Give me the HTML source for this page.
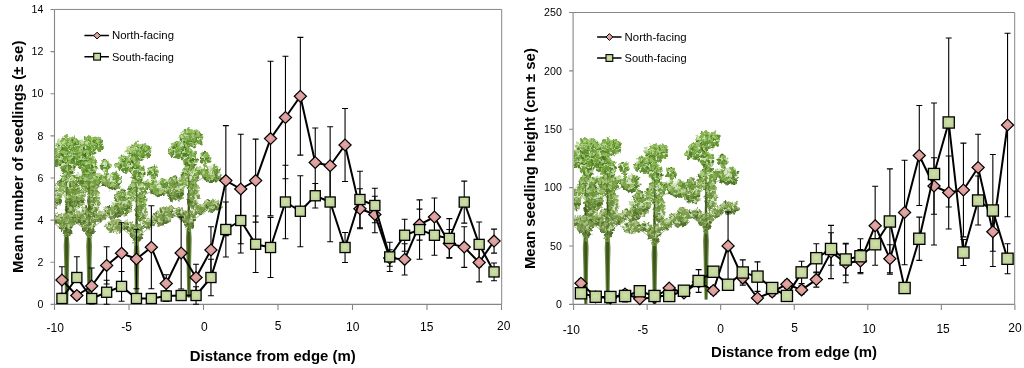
<!DOCTYPE html>
<html><head><meta charset="utf-8"><title>Seedlings vs distance from edge</title>
<style>
html,body{margin:0;padding:0;background:#fff;}
svg{display:block;font-family:"Liberation Sans",sans-serif;}
text{opacity:0.999;fill:#000;}
</style></head><body>
<svg width="1024" height="368" viewBox="0 0 1024 368">
<defs>
<radialGradient id="gp" cx="50%" cy="45%" r="70%"><stop offset="0" stop-color="#e3a9a7"/><stop offset="1" stop-color="#d28a88"/></radialGradient>
<radialGradient id="gg" cx="50%" cy="45%" r="75%"><stop offset="0" stop-color="#cfe0ac"/><stop offset="1" stop-color="#b7cc8c"/></radialGradient>
<path id="dm" d="M0 -5.9L6.1 0L0 5.9L-6.1 0Z" fill="url(#gp)" stroke="#000" stroke-width="1.2" stroke-linejoin="miter"/>
<rect id="sm1" x="-5.05" y="-5.05" width="10.1" height="10.1" fill="url(#gg)" stroke="#000" stroke-width="1.3"/>
<rect id="sm2" x="-5.6" y="-5.6" width="11.2" height="11.2" fill="url(#gg)" stroke="#000" stroke-width="1.3"/>
<path id="dl" d="M0 -3.4L3.4 0L0 3.4L-3.4 0Z" fill="url(#gp)" stroke="#000" stroke-width="1"/>
<rect id="sl" x="-3.4" y="-3.4" width="6.8" height="6.8" fill="url(#gg)" stroke="#000" stroke-width="1.1"/>
<g id="trunk"><path d="M-1.5 168.7L-1.9 150L-2.3 130L-2.9 110L-1.6 92L-0.7 60L0 26L0.7 60L1.6 92L2.9 110L2.4 130L2.1 150L1.7 168.7Z" fill="#6c8a40"/><path d="M-0.6 168.7L-0.9 150L-1.2 130L-1.5 110L-0.6 70L0 34L0.6 70L1.5 110L1.2 130L1 150L0.7 168.7Z" fill="#3b541b"/><path d="M0 97L-20 82M0 95L22 78M0 56L21 46" stroke="#5a7a2c" stroke-width="0.8" fill="none" opacity="0.7"/></g><g id="tree"><ellipse cx="1.4" cy="9.5" rx="10" ry="7.6" fill="#7aa640" opacity="0.3"/><ellipse cx="8.5" cy="5.5" rx="3.8" ry="3.4" fill="#7aa640" opacity="0.3"/><ellipse cx="-10.5" cy="21.5" rx="9.3" ry="7.2" fill="#7aa640" opacity="0.3"/><ellipse cx="16" cy="30" rx="4.5" ry="5.1" fill="#7aa640" opacity="0.3"/><ellipse cx="1.5" cy="30" rx="6" ry="8.5" fill="#7aa640" opacity="0.3"/><ellipse cx="23.5" cy="45.5" rx="8.1" ry="8.1" fill="#7aa640" opacity="0.3"/><ellipse cx="12" cy="42" rx="4.2" ry="3.8" fill="#7aa640" opacity="0.3"/><ellipse cx="1" cy="48" rx="6.8" ry="10.2" fill="#7aa640" opacity="0.3"/><ellipse cx="-14" cy="60" rx="8.5" ry="11" fill="#7aa640" opacity="0.3"/><ellipse cx="5" cy="66" rx="4.7" ry="11" fill="#7aa640" opacity="0.3"/><ellipse cx="23" cy="77" rx="8.9" ry="5.1" fill="#7aa640" opacity="0.3"/><ellipse cx="11" cy="81.5" rx="5.1" ry="4.2" fill="#7aa640" opacity="0.3"/><ellipse cx="-22" cy="84" rx="8.9" ry="5.1" fill="#7aa640" opacity="0.3"/><ellipse cx="-9" cy="83" rx="4.7" ry="4.2" fill="#7aa640" opacity="0.3"/><ellipse cx="0" cy="88.5" rx="6.4" ry="6" fill="#7aa640" opacity="0.3"/><ellipse cx="0.3" cy="97" rx="3.2" ry="4.2" fill="#7aa640" opacity="0.3"/><circle cx="-12.6" cy="58" r="1.1" fill="#85ab4d"/><circle cx="-18" cy="86" r="1.4" fill="#c0d4a0"/><circle cx="0" cy="53" r="1.3" fill="#608a2e"/><circle cx="19.5" cy="49.1" r="1.5" fill="#91b85c"/><circle cx="0.4" cy="59.3" r="1.5" fill="#79a141"/><circle cx="23.5" cy="82.7" r="0.9" fill="#56762b"/><circle cx="3.1" cy="52.4" r="1.6" fill="#5f8a2e"/><circle cx="-18.7" cy="60.9" r="0.8" fill="#a7c67b"/><circle cx="12.5" cy="25.7" r="0.8" fill="#3e6a18"/><circle cx="-4.9" cy="12.8" r="1.1" fill="#5a8c26"/><circle cx="17.3" cy="43.2" r="1" fill="#6a9732"/><circle cx="-11.7" cy="66.9" r="1.1" fill="#527727"/><circle cx="-14.9" cy="88.1" r="0.7" fill="#4a6824"/><circle cx="-1.4" cy="23.5" r="1.4" fill="#72a436"/><circle cx="28.3" cy="81.8" r="1.1" fill="#55762b"/><circle cx="-10.5" cy="83.5" r="0.8" fill="#acc483"/><circle cx="1.6" cy="96.8" r="1.4" fill="#7e9e4a"/><circle cx="-19.7" cy="85.5" r="0.8" fill="#729440"/><circle cx="16.5" cy="72.6" r="1" fill="#70953c"/><circle cx="-0.8" cy="15.8" r="1.2" fill="#8cba54"/><circle cx="9.6" cy="40.4" r="1.7" fill="#5d8b2b"/><circle cx="0.8" cy="73.8" r="1.4" fill="#486822"/><circle cx="-15.3" cy="53.1" r="1.1" fill="#608a2e"/><circle cx="-9.9" cy="81.3" r="1.2" fill="#658837"/><circle cx="-19.9" cy="89.4" r="1.2" fill="#7e9e4a"/><circle cx="1.1" cy="57.4" r="0.9" fill="#608a30"/><circle cx="6.4" cy="6.6" r="1" fill="#b8d890"/><circle cx="17.1" cy="43.9" r="1.1" fill="#bbd795"/><circle cx="-17.2" cy="15.2" r="0.8" fill="#3e6a18"/><circle cx="25.5" cy="40.4" r="1.5" fill="#a3c774"/><circle cx="1.1" cy="53.2" r="1" fill="#44691e"/><circle cx="-11.2" cy="63.6" r="1" fill="#628932"/><circle cx="-0.1" cy="101.7" r="1.2" fill="#7e9e4a"/><circle cx="9" cy="79.9" r="1.5" fill="#71943e"/><circle cx="-4.5" cy="15" r="0.7" fill="#4a7a1c"/><circle cx="-5.7" cy="28.1" r="0.8" fill="#3f6a19"/><circle cx="-11.4" cy="83.4" r="1.3" fill="#72943f"/><circle cx="-12.2" cy="51.3" r="1.6" fill="#77a13f"/><circle cx="7" cy="50.5" r="0.8" fill="#a5c677"/><circle cx="27.2" cy="45.9" r="1.5" fill="#42691c"/><circle cx="10.9" cy="8.6" r="1.1" fill="#a0c86e"/><circle cx="-10.5" cy="72" r="1.4" fill="#537729"/><circle cx="0.3" cy="41.2" r="1.2" fill="#a3c774"/><circle cx="10.4" cy="4.8" r="0.7" fill="#b8d890"/><circle cx="6.2" cy="63.2" r="1.3" fill="#86aa4f"/><circle cx="-14.1" cy="55.6" r="0.9" fill="#84ab4c"/><circle cx="2.9" cy="59.1" r="1.4" fill="#618a30"/><circle cx="7.2" cy="54" r="1.4" fill="#608a2f"/><circle cx="14.6" cy="75.2" r="1.3" fill="#aac580"/><circle cx="-20.1" cy="80.1" r="1.2" fill="#71943e"/><circle cx="-4.9" cy="9.7" r="1.3" fill="#66982c"/><circle cx="23" cy="75.3" r="0.7" fill="#547729"/><circle cx="-2" cy="26.1" r="1.4" fill="#7eae42"/><circle cx="-5" cy="13.4" r="1.1" fill="#4a7a1c"/><circle cx="10.5" cy="7.3" r="1.4" fill="#8cba54"/><circle cx="3.9" cy="78.6" r="1.3" fill="#55762a"/><circle cx="22.6" cy="76" r="1.4" fill="#88a953"/><circle cx="23.5" cy="47.3" r="0.9" fill="#6a9733"/><circle cx="0" cy="94.6" r="0.8" fill="#acc484"/><circle cx="1.6" cy="75.2" r="1.2" fill="#648935"/><circle cx="19.6" cy="76.9" r="1.5" fill="#88a953"/><circle cx="0.3" cy="6.9" r="0.8" fill="#b8d890"/><circle cx="-0.8" cy="26.2" r="1.1" fill="#4a7a1c"/><circle cx="-14.1" cy="56.2" r="0.9" fill="#78a140"/><circle cx="-17" cy="64.4" r="0.9" fill="#7aa043"/><circle cx="-2.2" cy="10.6" r="1.3" fill="#5a8c26"/><circle cx="2.4" cy="23.3" r="1.5" fill="#a0c86e"/><circle cx="10.3" cy="42.8" r="1" fill="#a4c775"/><circle cx="11.7" cy="5.6" r="1.2" fill="#72a436"/><circle cx="28.8" cy="42.9" r="0.7" fill="#5e8b2b"/><circle cx="-19.4" cy="68" r="1.2" fill="#537727"/><circle cx="5.1" cy="5.5" r="1.1" fill="#5a8c26"/><circle cx="-13" cy="70.1" r="1.5" fill="#95b563"/><circle cx="8.7" cy="42.2" r="1.3" fill="#41691b"/><circle cx="24.2" cy="49.5" r="0.8" fill="#77a23e"/><circle cx="2.5" cy="16.7" r="1.2" fill="#5a8c26"/><circle cx="11.4" cy="82.9" r="1" fill="#98b467"/><circle cx="-9.6" cy="56.7" r="1" fill="#92b75f"/><circle cx="-15.7" cy="23.9" r="0.8" fill="#72a436"/><circle cx="-7.3" cy="67" r="0.8" fill="#628933"/><circle cx="-4.8" cy="47.3" r="1.1" fill="#90b85b"/><circle cx="2.8" cy="90.9" r="1.3" fill="#4a6824"/><circle cx="17.2" cy="50.4" r="1.6" fill="#43691d"/><circle cx="-23.9" cy="78.5" r="1.4" fill="#97b566"/><circle cx="-5" cy="17.6" r="0.9" fill="#8cba54"/><circle cx="-12.5" cy="53.3" r="1.4" fill="#44691e"/><circle cx="4.8" cy="37.5" r="1.6" fill="#5c8b2a"/><circle cx="6.2" cy="34.5" r="1" fill="#a2c771"/><circle cx="3.6" cy="18.1" r="1.1" fill="#5a8c26"/><circle cx="-24.3" cy="86.6" r="0.9" fill="#668838"/><circle cx="11.3" cy="38.3" r="0.7" fill="#81ad46"/><circle cx="2.8" cy="24.3" r="1.4" fill="#72a436"/><circle cx="-7.1" cy="55.7" r="0.8" fill="#bcd698"/><circle cx="5.6" cy="2.5" r="0.9" fill="#a0c86e"/><circle cx="-18.6" cy="79.2" r="1.1" fill="#71943e"/><circle cx="-19.4" cy="24.3" r="0.8" fill="#72a436"/><circle cx="20.9" cy="52.7" r="0.8" fill="#44691e"/><circle cx="-3.5" cy="8.3" r="1.2" fill="#8cba54"/><circle cx="-21" cy="82.3" r="1.3" fill="#71943f"/><circle cx="-2" cy="96.4" r="1.1" fill="#7e9e4a"/><circle cx="6.4" cy="24.5" r="1.5" fill="#66982c"/><circle cx="-12.3" cy="20.3" r="0.8" fill="#3e6a18"/><circle cx="-2" cy="22.7" r="1" fill="#72a436"/><circle cx="-14.8" cy="58.8" r="1" fill="#517825"/><circle cx="-11.7" cy="86.1" r="1.6" fill="#8aa856"/><circle cx="-9.1" cy="16.2" r="1" fill="#7eae42"/><circle cx="13" cy="26.3" r="1.4" fill="#a0c86e"/><circle cx="6" cy="76.4" r="1.6" fill="#648935"/><circle cx="24.3" cy="52.7" r="1.6" fill="#608a2e"/><circle cx="7.7" cy="40.3" r="1.6" fill="#a3c774"/><circle cx="15.8" cy="41.9" r="1.1" fill="#5d8b2b"/><circle cx="-2.3" cy="30.1" r="1.2" fill="#7fad44"/><circle cx="3.4" cy="90.4" r="1.6" fill="#c0d4a0"/><circle cx="9.6" cy="71.7" r="0.7" fill="#6f953c"/><circle cx="-1.3" cy="58.7" r="0.8" fill="#618a30"/><circle cx="-10.1" cy="82.7" r="1.5" fill="#98b467"/><circle cx="-13.8" cy="83.2" r="0.7" fill="#72943f"/><circle cx="-0.4" cy="65.7" r="1.3" fill="#466920"/><circle cx="1.1" cy="8.3" r="1.3" fill="#8cba54"/><circle cx="14.2" cy="44.6" r="1.2" fill="#4e7921"/><circle cx="-5.1" cy="90.9" r="1.5" fill="#7e9e4a"/><circle cx="30.1" cy="74.9" r="0.9" fill="#bfd59d"/><circle cx="1.5" cy="58.7" r="0.8" fill="#45691f"/><circle cx="-1.6" cy="31.2" r="1.2" fill="#4b7a1e"/><circle cx="0.7" cy="60.2" r="1.2" fill="#bdd699"/><circle cx="7.5" cy="9.3" r="0.9" fill="#3e6a18"/><circle cx="23.9" cy="46.7" r="1.3" fill="#42691c"/><circle cx="4.9" cy="14" r="1.6" fill="#5a8c26"/><circle cx="-11" cy="15.5" r="0.9" fill="#8cba54"/><circle cx="1" cy="86" r="0.9" fill="#56762c"/><circle cx="14.7" cy="80.4" r="1.7" fill="#658837"/><circle cx="3.5" cy="8.1" r="0.9" fill="#4a7a1c"/><circle cx="12.4" cy="40.9" r="0.7" fill="#41691b"/><circle cx="-8.2" cy="86.6" r="1.1" fill="#56762c"/><circle cx="24.8" cy="43.7" r="1.2" fill="#5e8b2c"/><circle cx="-13.5" cy="53.4" r="1.5" fill="#84ab4b"/><circle cx="21.3" cy="82.3" r="1.2" fill="#c0d49f"/><circle cx="7.1" cy="45.8" r="1.5" fill="#4e7922"/><circle cx="-13" cy="48.7" r="1.6" fill="#43691d"/><circle cx="-16.2" cy="58.8" r="1.4" fill="#bdd699"/><circle cx="-2.3" cy="42.2" r="1.7" fill="#8fb85a"/><circle cx="28.7" cy="40.2" r="1.1" fill="#8fb859"/><circle cx="-6.2" cy="86.2" r="1" fill="#4a6824"/><circle cx="0.1" cy="58.9" r="0.8" fill="#517825"/><circle cx="-1.2" cy="48.2" r="1" fill="#6b9634"/><circle cx="-2.1" cy="3.8" r="0.7" fill="#5a8c26"/><circle cx="-14.7" cy="47.7" r="1.6" fill="#6b9634"/><circle cx="-19" cy="68.8" r="1.1" fill="#476921"/><circle cx="-10.1" cy="61.9" r="1.4" fill="#79a042"/><circle cx="-13.3" cy="56.2" r="1.4" fill="#78a140"/><circle cx="-4.3" cy="13.7" r="0.8" fill="#4a7a1c"/><circle cx="-18.8" cy="67" r="0.9" fill="#7aa044"/><circle cx="-10.4" cy="65.4" r="0.8" fill="#527727"/><circle cx="-0.5" cy="65.5" r="0.9" fill="#6e9539"/><circle cx="-4.2" cy="41.3" r="1.4" fill="#8fb859"/><circle cx="1.5" cy="92.5" r="1.6" fill="#4a6824"/><circle cx="-5.2" cy="32.7" r="0.9" fill="#a2c771"/><circle cx="-1.9" cy="96.1" r="1.6" fill="#7e9e4a"/><circle cx="1" cy="12.6" r="0.7" fill="#a0c86e"/><circle cx="-12.7" cy="62.6" r="1.4" fill="#527726"/><circle cx="6.3" cy="37.1" r="0.8" fill="#5c8b2a"/><circle cx="-9.7" cy="80.5" r="1.5" fill="#97b466"/><circle cx="-7.1" cy="86.5" r="1.6" fill="#729440"/><circle cx="6.3" cy="34" r="1.4" fill="#8eb957"/><circle cx="21.2" cy="75.6" r="1.3" fill="#486822"/><circle cx="-16" cy="51.8" r="1.7" fill="#6b9635"/><circle cx="12.3" cy="80.7" r="1.5" fill="#71943f"/><circle cx="6.6" cy="82.1" r="1.1" fill="#7d9e49"/><circle cx="5.2" cy="84.6" r="1.3" fill="#8aa856"/><circle cx="-4" cy="94.1" r="0.9" fill="#729440"/><circle cx="-1.2" cy="40.3" r="1.2" fill="#81ac47"/><circle cx="27.5" cy="43.5" r="1.6" fill="#76a23c"/><circle cx="0.2" cy="25.3" r="0.9" fill="#72a436"/><circle cx="20" cy="43.3" r="0.9" fill="#6a9732"/><circle cx="-8.9" cy="21.9" r="1.3" fill="#7eae42"/><circle cx="17.3" cy="48.3" r="0.7" fill="#6b9634"/><circle cx="-28" cy="83.5" r="0.8" fill="#729440"/><circle cx="12.1" cy="8.6" r="0.7" fill="#5a8c26"/><circle cx="-1.9" cy="56.2" r="0.7" fill="#44691e"/><circle cx="0.9" cy="12.7" r="1.1" fill="#5a8c26"/><circle cx="-8.4" cy="13.8" r="1.3" fill="#4a7a1c"/><circle cx="-1.4" cy="52.5" r="0.8" fill="#78a13f"/><circle cx="10.5" cy="40" r="1" fill="#a3c773"/><circle cx="5.6" cy="7" r="1.1" fill="#7eae42"/><circle cx="-0.9" cy="23.2" r="0.8" fill="#72a436"/><circle cx="-7.7" cy="21.9" r="1.3" fill="#b8d890"/><circle cx="-18.7" cy="78.5" r="1" fill="#658836"/><circle cx="-5.4" cy="18.6" r="1" fill="#3e6a18"/><circle cx="-0.2" cy="15" r="1.4" fill="#4a7a1c"/><circle cx="16.5" cy="35.6" r="1.5" fill="#80ad46"/><circle cx="3.2" cy="54.5" r="1.5" fill="#44691e"/><circle cx="-10.7" cy="28.3" r="1.7" fill="#3f6a19"/><circle cx="6.7" cy="23.9" r="0.8" fill="#8cba54"/><circle cx="5.1" cy="9" r="0.9" fill="#8cba54"/><circle cx="4.3" cy="91.4" r="1.7" fill="#56762c"/><circle cx="-27.2" cy="80.3" r="1.4" fill="#abc482"/><circle cx="0.8" cy="25.2" r="1.4" fill="#66982c"/><circle cx="-22" cy="61.6" r="1.5" fill="#79a042"/><circle cx="4.1" cy="86.9" r="1.6" fill="#729440"/><circle cx="-7.3" cy="20.2" r="1.2" fill="#66982c"/><circle cx="-6.9" cy="87.4" r="1.3" fill="#668838"/><circle cx="18.8" cy="29.4" r="1.6" fill="#67982d"/><circle cx="29.7" cy="41.8" r="1" fill="#bad794"/><circle cx="9.2" cy="3.8" r="0.7" fill="#7eae42"/><circle cx="5.8" cy="85.3" r="1.4" fill="#8aa856"/><circle cx="-4.4" cy="32.3" r="0.8" fill="#67982e"/><circle cx="29" cy="42" r="1.6" fill="#75a23c"/><circle cx="-26.4" cy="84.7" r="0.9" fill="#7e9e4a"/><circle cx="-13.5" cy="28.2" r="0.9" fill="#3f6a19"/><circle cx="5.5" cy="6.8" r="0.9" fill="#66982c"/><circle cx="-12.7" cy="64.8" r="1" fill="#6e9539"/><circle cx="-8.3" cy="20.4" r="1.3" fill="#7eae42"/><circle cx="1.7" cy="20.9" r="1.3" fill="#8cba54"/><circle cx="11.2" cy="14" r="1.4" fill="#4a7a1c"/><circle cx="4.6" cy="66.8" r="1.6" fill="#628933"/><circle cx="-11" cy="53.8" r="0.9" fill="#78a140"/><circle cx="-4.5" cy="59.1" r="1.4" fill="#a7c67a"/><circle cx="25.8" cy="80.3" r="1.4" fill="#658837"/><circle cx="-10.6" cy="81.6" r="1.4" fill="#c0d49f"/><circle cx="17.7" cy="74.3" r="1.4" fill="#aac580"/><circle cx="3.6" cy="63.1" r="0.9" fill="#6e9539"/><circle cx="-15.9" cy="64.5" r="1" fill="#628932"/><circle cx="5.6" cy="2.7" r="1.6" fill="#8cba54"/><circle cx="-3.3" cy="27.5" r="1" fill="#b8d891"/><circle cx="22.2" cy="51" r="1.1" fill="#a5c678"/><circle cx="4.8" cy="85.8" r="0.8" fill="#729440"/><circle cx="10.2" cy="4.7" r="1.2" fill="#7eae42"/><circle cx="8.3" cy="73.4" r="0.7" fill="#486822"/><circle cx="-14.2" cy="65.8" r="0.8" fill="#a8c57d"/><circle cx="-15.3" cy="21.6" r="0.9" fill="#7eae42"/><circle cx="2.3" cy="27.1" r="1.2" fill="#66982d"/><circle cx="0.6" cy="22.3" r="1" fill="#8cba54"/><circle cx="-2" cy="22.1" r="1.6" fill="#72a436"/><circle cx="-9.6" cy="19.5" r="0.9" fill="#5a8c26"/><circle cx="26.4" cy="43.8" r="1.6" fill="#4e7921"/><circle cx="0.9" cy="41.1" r="1.4" fill="#a3c774"/><circle cx="-5.2" cy="81.5" r="0.8" fill="#658837"/><circle cx="4.1" cy="26.8" r="0.9" fill="#72a437"/><circle cx="7" cy="83.9" r="0.7" fill="#4a6824"/><circle cx="12.8" cy="79.2" r="1" fill="#71943e"/><circle cx="-4.4" cy="54.4" r="1.5" fill="#78a140"/><circle cx="-2.5" cy="45.7" r="1.2" fill="#a4c776"/><circle cx="25.1" cy="72.8" r="0.8" fill="#7c9f46"/><circle cx="-14.3" cy="85.6" r="0.8" fill="#56762c"/><circle cx="-9" cy="20.6" r="1.1" fill="#5a8c26"/><circle cx="-14.4" cy="14.1" r="1.3" fill="#66982c"/><circle cx="15" cy="48.2" r="1.1" fill="#6b9634"/><circle cx="28.8" cy="74.9" r="0.8" fill="#70953d"/><circle cx="5.3" cy="75.1" r="1.6" fill="#648935"/><circle cx="20" cy="29.1" r="1.7" fill="#a1c86f"/><circle cx="-27.5" cy="82.3" r="1.4" fill="#89a855"/><circle cx="7.5" cy="75.5" r="0.9" fill="#7c9f47"/><circle cx="-6.5" cy="86.8" r="1.2" fill="#729440"/><circle cx="6.4" cy="45.7" r="1.5" fill="#76a23d"/><circle cx="-3.1" cy="45.2" r="1.1" fill="#5e8b2c"/><circle cx="-12.7" cy="53.1" r="0.8" fill="#a6c678"/><circle cx="23.6" cy="52.6" r="1.7" fill="#44691e"/><circle cx="7.8" cy="7.9" r="1.1" fill="#3e6a18"/><circle cx="-5.1" cy="59.8" r="1.2" fill="#93b760"/><circle cx="2.6" cy="22.6" r="1" fill="#4a7a1c"/><circle cx="5" cy="33.7" r="1.7" fill="#74a339"/><circle cx="-5.3" cy="56.5" r="0.7" fill="#6c9636"/><circle cx="-11.2" cy="51.6" r="0.7" fill="#bcd697"/><circle cx="28.7" cy="78.5" r="1.2" fill="#7d9f48"/><circle cx="11.4" cy="3.3" r="0.9" fill="#8cba54"/><circle cx="-7.4" cy="28.5" r="0.9" fill="#5b8c27"/><circle cx="-23.4" cy="59.9" r="0.7" fill="#517825"/><circle cx="-1.8" cy="25.9" r="1.1" fill="#3e6a18"/><circle cx="15.7" cy="74.5" r="0.9" fill="#70953c"/><circle cx="23.2" cy="46.2" r="0.9" fill="#bbd796"/><circle cx="-12.3" cy="21.1" r="1.1" fill="#5a8c26"/><circle cx="-3.4" cy="14.3" r="1.3" fill="#5a8c26"/><circle cx="27.1" cy="47.9" r="1.6" fill="#43691d"/><circle cx="4.2" cy="77.8" r="1.5" fill="#658836"/><circle cx="-21.3" cy="86.7" r="1.2" fill="#668838"/><circle cx="-23.9" cy="59.9" r="1.4" fill="#bdd699"/><circle cx="-20" cy="54.5" r="0.8" fill="#6c9636"/><circle cx="9.7" cy="13.2" r="1.6" fill="#b8d890"/><circle cx="2.1" cy="59" r="1" fill="#93b75f"/><circle cx="30.2" cy="42.1" r="1" fill="#a3c774"/><circle cx="5.1" cy="51.2" r="0.9" fill="#6b9635"/><circle cx="21" cy="31.2" r="1.6" fill="#5b8c28"/><circle cx="-20.4" cy="62.5" r="1.3" fill="#7aa043"/><circle cx="26.1" cy="44.2" r="1" fill="#6a9732"/><circle cx="1.8" cy="71.5" r="1.3" fill="#6f953b"/><circle cx="4.6" cy="87.6" r="1.2" fill="#7e9e4a"/><circle cx="-8.8" cy="7.9" r="1.2" fill="#8cba54"/><circle cx="20.5" cy="78.3" r="1.3" fill="#71943e"/><circle cx="3.1" cy="65.5" r="1.7" fill="#6e953a"/><circle cx="19.1" cy="77.4" r="1.6" fill="#486822"/><circle cx="3.4" cy="57.5" r="0.8" fill="#618a30"/><circle cx="-3.7" cy="84.8" r="1.6" fill="#acc484"/><circle cx="-26.5" cy="84.6" r="0.8" fill="#acc484"/><circle cx="15.7" cy="35.8" r="1" fill="#689730"/><circle cx="15.6" cy="83.4" r="1.3" fill="#98b467"/><circle cx="-13.7" cy="28.9" r="0.7" fill="#5b8c27"/><circle cx="2.2" cy="36.9" r="1.6" fill="#689730"/><circle cx="2" cy="4.4" r="1.2" fill="#7eae42"/><circle cx="-16.5" cy="71.8" r="0.8" fill="#537728"/><circle cx="23.4" cy="48.8" r="1.2" fill="#6b9634"/><circle cx="-7.5" cy="50.2" r="1" fill="#4f7823"/><circle cx="13.3" cy="77.5" r="1" fill="#486822"/><circle cx="-3.5" cy="10" r="1.5" fill="#72a436"/><circle cx="7.5" cy="42.5" r="0.9" fill="#bad795"/><circle cx="-18" cy="58.1" r="1.6" fill="#79a141"/><circle cx="-31.4" cy="83.2" r="1.5" fill="#7e9e49"/><circle cx="-10.9" cy="61.7" r="1.7" fill="#6d9638"/><circle cx="24.2" cy="44" r="1" fill="#6a9732"/><circle cx="-6.3" cy="44.1" r="1.1" fill="#6a9732"/><circle cx="-2.6" cy="49.8" r="1.7" fill="#a5c677"/><circle cx="-3.7" cy="31.2" r="1.2" fill="#67982e"/><circle cx="4.9" cy="5.4" r="1.6" fill="#66982c"/><circle cx="-3.7" cy="2.5" r="1.6" fill="#66982c"/><circle cx="6.9" cy="12.7" r="1" fill="#b8d890"/><circle cx="4.7" cy="27.2" r="1" fill="#72a437"/><circle cx="23.4" cy="76.9" r="1.6" fill="#aac581"/><circle cx="7.8" cy="8.4" r="1.1" fill="#4a7a1c"/><circle cx="17.1" cy="25.3" r="1" fill="#72a436"/><circle cx="18.5" cy="49.5" r="0.9" fill="#6b9634"/><circle cx="-20.3" cy="65.3" r="1.1" fill="#527727"/><circle cx="-21.1" cy="66.2" r="0.9" fill="#466920"/><circle cx="-11.1" cy="17.3" r="1.6" fill="#8cba54"/><circle cx="-3" cy="83.4" r="1.6" fill="#72943f"/><circle cx="-0.1" cy="82" r="1.1" fill="#658837"/><circle cx="2.1" cy="82.6" r="1.2" fill="#56762b"/><circle cx="-4.4" cy="84.5" r="1.5" fill="#c0d4a0"/><circle cx="-3.3" cy="20.3" r="1.2" fill="#b8d890"/><circle cx="2.6" cy="3.1" r="1.3" fill="#5a8c26"/><circle cx="-2.8" cy="44.8" r="1.2" fill="#6a9733"/><circle cx="20.4" cy="76.5" r="0.9" fill="#bfd59e"/><circle cx="4.1" cy="10.3" r="0.9" fill="#5a8c26"/><circle cx="-6.7" cy="90.3" r="1.1" fill="#c0d4a0"/><circle cx="-6.9" cy="21" r="1.5" fill="#b8d890"/><circle cx="11.5" cy="79.7" r="1.5" fill="#658836"/><circle cx="32.5" cy="78.5" r="1.2" fill="#658836"/><circle cx="-7.9" cy="11.1" r="1.3" fill="#3e6a18"/><circle cx="6" cy="9.5" r="0.8" fill="#72a436"/><circle cx="-22.4" cy="80.4" r="1.6" fill="#496823"/><circle cx="-1.6" cy="98.3" r="1.2" fill="#98b468"/><circle cx="8.7" cy="80.6" r="1.4" fill="#7d9e49"/><circle cx="20" cy="82" r="0.8" fill="#496823"/><circle cx="-5.7" cy="53.1" r="1.3" fill="#6c9635"/><circle cx="-5.3" cy="52.4" r="0.9" fill="#bcd697"/><circle cx="-6.4" cy="61.6" r="1.2" fill="#93b660"/><circle cx="-1.3" cy="13.2" r="1.5" fill="#66982c"/><circle cx="13.8" cy="41.2" r="0.9" fill="#81ac47"/><circle cx="10.1" cy="45.9" r="1.5" fill="#42691c"/><circle cx="-12" cy="55.6" r="0.7" fill="#6c9636"/><circle cx="29.9" cy="75.2" r="1.5" fill="#648935"/><circle cx="10.1" cy="9.2" r="1" fill="#5a8c26"/><circle cx="-7.1" cy="68.7" r="1.7" fill="#a9c57e"/><circle cx="-0.7" cy="4.2" r="1.2" fill="#72a436"/><circle cx="2" cy="66.7" r="1.6" fill="#7aa044"/><circle cx="6.2" cy="17.4" r="1.3" fill="#a0c86e"/><circle cx="15.7" cy="41.5" r="1.1" fill="#8fb85a"/><circle cx="-20" cy="68.7" r="0.9" fill="#bed59c"/><circle cx="-0.9" cy="21.3" r="0.8" fill="#4a7a1c"/><circle cx="-13.2" cy="28.4" r="1.3" fill="#5b8c27"/><circle cx="-2.2" cy="39.1" r="0.9" fill="#81ad47"/><circle cx="-12.7" cy="67.2" r="1.4" fill="#628933"/><circle cx="-10.6" cy="25.7" r="1.2" fill="#5a8c26"/><circle cx="9.9" cy="45.7" r="1.5" fill="#42691c"/><circle cx="6.7" cy="11.9" r="1.6" fill="#66982c"/><circle cx="7.6" cy="49.6" r="1.2" fill="#83ac4a"/><circle cx="-18.2" cy="52.1" r="1.2" fill="#bcd697"/><circle cx="-16.3" cy="57.8" r="1.5" fill="#45691f"/><circle cx="-11.9" cy="87.1" r="1.2" fill="#8aa856"/><circle cx="5.4" cy="12.8" r="1.1" fill="#8cba54"/><circle cx="17.9" cy="72.2" r="1.6" fill="#a9c57f"/><circle cx="5.1" cy="17.4" r="0.7" fill="#4a7a1c"/><circle cx="5.6" cy="4.7" r="1" fill="#8cba54"/><circle cx="-3.6" cy="45" r="0.8" fill="#6a9733"/><circle cx="15.7" cy="34.8" r="0.8" fill="#b9d793"/><circle cx="11.8" cy="84.3" r="1.6" fill="#668838"/><circle cx="-0.5" cy="55.7" r="1.3" fill="#78a140"/><circle cx="25.1" cy="36.8" r="1.3" fill="#8eb958"/><circle cx="2.6" cy="26.5" r="1.4" fill="#7eae42"/><circle cx="-16.3" cy="19.1" r="1.5" fill="#8cba54"/><circle cx="-12.4" cy="19.6" r="0.9" fill="#7eae42"/><circle cx="1" cy="46.1" r="1.1" fill="#6a9733"/><circle cx="4" cy="75.3" r="1.1" fill="#88a953"/><circle cx="-16.4" cy="58.2" r="0.9" fill="#45691f"/><circle cx="3.1" cy="42.9" r="0.8" fill="#5e8b2b"/><circle cx="-0.2" cy="9.1" r="1.5" fill="#b8d890"/><circle cx="8.6" cy="79" r="1.7" fill="#7d9f48"/><circle cx="-25.9" cy="86.9" r="0.8" fill="#668838"/><circle cx="-0" cy="95.2" r="0.9" fill="#56762c"/><circle cx="14.6" cy="47.3" r="1.5" fill="#6a9733"/><circle cx="24.7" cy="76.6" r="1.3" fill="#70953d"/><circle cx="12.7" cy="28.7" r="1.5" fill="#a1c86f"/><circle cx="20" cy="74.9" r="0.9" fill="#7c9f47"/><circle cx="-24.5" cy="82" r="0.8" fill="#97b467"/><circle cx="-11.8" cy="22.1" r="1.5" fill="#72a436"/><circle cx="4.7" cy="73" r="1" fill="#bed59d"/><circle cx="2.9" cy="95.2" r="0.9" fill="#668838"/><circle cx="-16.9" cy="80.8" r="1.5" fill="#abc482"/><circle cx="6.1" cy="62.4" r="1.1" fill="#517826"/><circle cx="-16.7" cy="53.2" r="0.9" fill="#84ab4b"/><circle cx="30" cy="73.1" r="1.2" fill="#7c9f46"/><circle cx="-26.9" cy="86.9" r="1.6" fill="#7e9e4a"/><circle cx="26.6" cy="45.7" r="0.9" fill="#76a23d"/><circle cx="-0.4" cy="29.1" r="1.2" fill="#67982d"/><circle cx="21.3" cy="47.7" r="1.3" fill="#5f8a2d"/><circle cx="7" cy="11.9" r="1.2" fill="#72a436"/><circle cx="3.9" cy="58.9" r="1.5" fill="#618a30"/><circle cx="0.4" cy="85.8" r="1.5" fill="#56762c"/><circle cx="-22.9" cy="60.8" r="1.3" fill="#bdd69a"/><circle cx="1.6" cy="65.3" r="1.6" fill="#7aa043"/><circle cx="-16" cy="64" r="0.9" fill="#a8c57c"/><circle cx="-21.3" cy="53.5" r="1.4" fill="#507824"/><circle cx="2.5" cy="7" r="1.6" fill="#5a8c26"/><circle cx="7.3" cy="31.8" r="1.3" fill="#73a338"/><circle cx="17.6" cy="35.6" r="1.2" fill="#5c8b29"/><circle cx="11.1" cy="83.2" r="1.7" fill="#72943f"/><circle cx="-6.6" cy="21.5" r="1.3" fill="#4a7a1c"/><circle cx="26.1" cy="48.6" r="1.5" fill="#bbd696"/><circle cx="22.4" cy="46.6" r="0.7" fill="#76a23d"/><circle cx="8.3" cy="12.4" r="1.2" fill="#66982c"/><circle cx="-10.2" cy="57" r="1" fill="#78a141"/><circle cx="-13.6" cy="57.7" r="1.5" fill="#6d9637"/><circle cx="3.8" cy="70" r="1.2" fill="#537728"/><circle cx="-1.6" cy="4.4" r="0.9" fill="#8cba54"/><circle cx="-27.3" cy="82.4" r="1" fill="#7d9e49"/><circle cx="-17.8" cy="79" r="1.3" fill="#55762a"/><circle cx="-11.5" cy="84.7" r="1.3" fill="#729440"/><circle cx="20.7" cy="79.3" r="0.8" fill="#55762a"/><circle cx="1.1" cy="39.8" r="1.7" fill="#699731"/><circle cx="0.1" cy="71.4" r="1.6" fill="#476821"/><circle cx="-11.8" cy="16.5" r="1.1" fill="#4a7a1c"/><circle cx="0" cy="24" r="0.8" fill="#7eae42"/><circle cx="-4" cy="40.2" r="1.4" fill="#4d7920"/><circle cx="-5.5" cy="25.8" r="1.6" fill="#66982c"/><circle cx="11.2" cy="82.4" r="1.1" fill="#71943f"/><circle cx="-6.4" cy="62" r="1.7" fill="#79a042"/><circle cx="-17.2" cy="86" r="0.7" fill="#56762c"/><circle cx="-0.5" cy="37.8" r="0.8" fill="#bad793"/><circle cx="8.2" cy="63.9" r="0.9" fill="#466920"/><circle cx="-18" cy="49" r="0.9" fill="#43691d"/><circle cx="18.5" cy="73.1" r="1.4" fill="#88a952"/><circle cx="-8.8" cy="49.2" r="0.8" fill="#6b9634"/><circle cx="-15.7" cy="66.1" r="1.1" fill="#86aa50"/><circle cx="18.5" cy="75.8" r="0.8" fill="#54772a"/><circle cx="-9.6" cy="52" r="0.7" fill="#91b75d"/><circle cx="4.6" cy="25.2" r="0.8" fill="#8cba54"/><circle cx="-0.6" cy="43.1" r="1.4" fill="#6a9732"/><circle cx="3.3" cy="84.7" r="1" fill="#668838"/><circle cx="1.8" cy="95.7" r="0.9" fill="#668838"/><circle cx="-11.7" cy="83" r="1.1" fill="#8aa855"/><circle cx="-17.7" cy="25.4" r="1" fill="#72a436"/><circle cx="0.4" cy="18.3" r="1.7" fill="#4a7a1c"/><circle cx="-18.4" cy="80.7" r="1" fill="#97b467"/><circle cx="3.9" cy="5.3" r="0.8" fill="#a0c86e"/><circle cx="-5.5" cy="43.9" r="0.8" fill="#42691c"/><circle cx="15.2" cy="74" r="0.8" fill="#547729"/><circle cx="-23.2" cy="82.8" r="1.6" fill="#72943f"/><circle cx="8.6" cy="1.8" r="1" fill="#4a7a1c"/><circle cx="-2.6" cy="8.4" r="1.1" fill="#a0c86e"/><circle cx="8.1" cy="74" r="1.4" fill="#486822"/><circle cx="-4.4" cy="19.1" r="1.6" fill="#3e6a18"/><circle cx="-5.1" cy="83.9" r="1.5" fill="#acc484"/><circle cx="-0.4" cy="46.7" r="0.9" fill="#76a23d"/><circle cx="6.9" cy="31.4" r="1.4" fill="#73a338"/><circle cx="-2" cy="12.8" r="1.2" fill="#a0c86e"/><circle cx="1.1" cy="96.9" r="1.7" fill="#729440"/><circle cx="8.8" cy="59.3" r="1.5" fill="#a7c67b"/><circle cx="22.8" cy="80.8" r="1.4" fill="#658837"/><circle cx="6.8" cy="64.5" r="1.7" fill="#7aa043"/><circle cx="1.3" cy="93.8" r="1.6" fill="#668838"/><circle cx="18.2" cy="48.4" r="1.7" fill="#91b85c"/><circle cx="14.4" cy="29.3" r="1" fill="#5b8c27"/><circle cx="-14.1" cy="14.9" r="0.9" fill="#72a436"/><circle cx="11.1" cy="42.7" r="1.6" fill="#42691c"/><circle cx="18.5" cy="26.2" r="0.7" fill="#7eae42"/><circle cx="0.7" cy="8.7" r="1.5" fill="#66982c"/><circle cx="2.2" cy="30.1" r="1.7" fill="#5b8c28"/><circle cx="1.6" cy="2.7" r="1.5" fill="#4a7a1c"/><circle cx="27.1" cy="80.7" r="1.3" fill="#496823"/><circle cx="6.6" cy="60.9" r="0.8" fill="#79a042"/><circle cx="-2.6" cy="94.6" r="0.9" fill="#acc484"/><circle cx="15.9" cy="44.5" r="1.3" fill="#5e8b2c"/><circle cx="-13.1" cy="20.9" r="0.8" fill="#7eae42"/><circle cx="-21.2" cy="87.3" r="1.6" fill="#668838"/><circle cx="9.8" cy="14.5" r="1.1" fill="#8cba54"/><circle cx="9" cy="57.4" r="1" fill="#78a141"/><circle cx="13.3" cy="79.1" r="1.4" fill="#97b566"/><circle cx="7.5" cy="42.2" r="0.8" fill="#699732"/><circle cx="30.6" cy="51.7" r="0.8" fill="#5f8a2e"/><circle cx="17.2" cy="33.5" r="1.3" fill="#80ad45"/><circle cx="6.1" cy="85.1" r="1.2" fill="#7e9e4a"/><circle cx="16.3" cy="77.2" r="1.2" fill="#70953d"/><circle cx="-9.1" cy="26.8" r="1.2" fill="#4a7a1c"/><circle cx="-7.4" cy="52.1" r="1.6" fill="#83ab4b"/><circle cx="-8.5" cy="68.9" r="0.8" fill="#638933"/><circle cx="-20.1" cy="52.7" r="1.5" fill="#a6c678"/><circle cx="20.8" cy="31.7" r="1.5" fill="#b9d892"/><circle cx="21.3" cy="52.5" r="1.5" fill="#43691d"/><circle cx="17.5" cy="49.3" r="0.8" fill="#83ac4a"/><circle cx="-18.8" cy="85.9" r="1.7" fill="#668838"/><circle cx="23.1" cy="74" r="1" fill="#96b564"/><circle cx="-14.7" cy="17.3" r="1.1" fill="#4a7a1c"/><circle cx="-8.7" cy="64.2" r="1.4" fill="#7aa043"/><circle cx="16.4" cy="83" r="0.8" fill="#56762b"/><circle cx="-16.7" cy="14.6" r="0.8" fill="#8cba54"/><circle cx="5.4" cy="63.6" r="1.5" fill="#628932"/><circle cx="26.9" cy="43.7" r="1.7" fill="#76a23c"/><circle cx="-5.1" cy="85.7" r="1.3" fill="#668838"/><circle cx="3.3" cy="93.4" r="1.3" fill="#8aa856"/><circle cx="-10" cy="26" r="1.6" fill="#3e6a18"/><circle cx="16.2" cy="41.1" r="1.6" fill="#8fb859"/><circle cx="-18.5" cy="54.7" r="0.7" fill="#92b75e"/><circle cx="0.6" cy="4.5" r="1.3" fill="#5a8c26"/><circle cx="5.4" cy="25.1" r="0.7" fill="#8cba54"/><circle cx="-2.8" cy="40.7" r="1.5" fill="#699731"/><circle cx="-5.4" cy="15" r="1.1" fill="#a0c86e"/><circle cx="-8.9" cy="69" r="1.2" fill="#638933"/><circle cx="16.5" cy="41.4" r="1.2" fill="#5d8b2b"/><circle cx="17.8" cy="39.2" r="1.6" fill="#81ad47"/><circle cx="-6.2" cy="92.2" r="1.7" fill="#4a6824"/><circle cx="6.6" cy="25.1" r="0.8" fill="#72a436"/><circle cx="4.2" cy="62.9" r="1.3" fill="#94b661"/><circle cx="8.5" cy="13.6" r="0.9" fill="#5a8c26"/><circle cx="6" cy="46.1" r="1.6" fill="#a4c776"/><circle cx="-18.7" cy="80.3" r="1.1" fill="#89a854"/><circle cx="22.9" cy="51.6" r="0.9" fill="#77a13f"/><circle cx="-3" cy="17.1" r="1.4" fill="#7eae42"/><circle cx="-4.7" cy="42.9" r="1.7" fill="#a4c775"/><circle cx="-15.8" cy="26" r="0.9" fill="#4a7a1c"/><circle cx="-14.5" cy="59.9" r="0.9" fill="#a7c67b"/><circle cx="-19.2" cy="69" r="1.2" fill="#476921"/><circle cx="-0.7" cy="12.6" r="1.4" fill="#5a8c26"/><circle cx="-3.9" cy="17.4" r="1.3" fill="#3e6a18"/><circle cx="-21.7" cy="56.1" r="1.1" fill="#608a2f"/><circle cx="10" cy="44.7" r="1.5" fill="#42691c"/><circle cx="19.2" cy="32.2" r="0.9" fill="#67982e"/><circle cx="-0.7" cy="15.7" r="0.9" fill="#72a436"/><circle cx="25.8" cy="77.8" r="1.5" fill="#658836"/><circle cx="-2.5" cy="88.9" r="1.4" fill="#729440"/><circle cx="7.5" cy="71.4" r="1" fill="#a9c57f"/><circle cx="-5.8" cy="27.6" r="1.1" fill="#73a437"/><circle cx="-10.6" cy="56" r="1.6" fill="#78a140"/><circle cx="6" cy="40.3" r="0.7" fill="#699731"/><circle cx="-16.9" cy="61.8" r="0.7" fill="#79a042"/><circle cx="-1.6" cy="7.4" r="0.8" fill="#5a8c26"/><circle cx="31.1" cy="78.5" r="1.5" fill="#71943e"/><circle cx="-11.4" cy="80.5" r="0.8" fill="#89a854"/><circle cx="-3.1" cy="44.7" r="0.7" fill="#90b85b"/><circle cx="5.2" cy="33.7" r="1.5" fill="#b9d792"/><circle cx="-21.3" cy="84.2" r="0.9" fill="#c0d4a0"/><circle cx="-16" cy="81.7" r="1.7" fill="#496823"/><circle cx="2.7" cy="95" r="0.9" fill="#668838"/><circle cx="11.8" cy="11.7" r="1.6" fill="#5a8c26"/><circle cx="1.8" cy="57.3" r="1" fill="#84ab4d"/><circle cx="6.5" cy="55.9" r="1.1" fill="#a6c679"/><circle cx="2" cy="55.2" r="0.7" fill="#44691e"/><circle cx="-5.5" cy="53.9" r="1.3" fill="#92b75e"/><circle cx="-12.7" cy="80" r="1.1" fill="#97b466"/><circle cx="4.6" cy="50.1" r="1.1" fill="#4f7823"/><circle cx="0.2" cy="41.2" r="1.4" fill="#41691b"/><circle cx="9" cy="48.8" r="1.5" fill="#5f8a2d"/><circle cx="-0.9" cy="1.3" r="1.1" fill="#72a436"/><circle cx="7.8" cy="3.8" r="1" fill="#72a436"/><circle cx="29" cy="43.2" r="1.1" fill="#42691c"/><circle cx="21.8" cy="82.8" r="1.6" fill="#668837"/><circle cx="9" cy="7.4" r="1.4" fill="#4a7a1c"/><circle cx="3.9" cy="15.6" r="0.7" fill="#72a436"/><circle cx="11.5" cy="42.1" r="0.8" fill="#699732"/><circle cx="10.1" cy="45.4" r="1.1" fill="#5e8b2c"/><circle cx="-13.6" cy="49.7" r="0.9" fill="#a5c677"/><circle cx="-11.1" cy="25.8" r="1" fill="#4a7a1c"/><circle cx="6.3" cy="54.8" r="1.4" fill="#507824"/><circle cx="30.5" cy="43.8" r="1.1" fill="#76a23c"/><circle cx="19" cy="71.7" r="1.5" fill="#476821"/><circle cx="-19.8" cy="21.6" r="1.1" fill="#66982c"/><circle cx="-21.9" cy="84.9" r="0.8" fill="#668838"/><circle cx="2.4" cy="61.3" r="1.7" fill="#618a31"/><circle cx="-4.1" cy="42.3" r="0.8" fill="#a3c774"/><circle cx="18.7" cy="30.4" r="1" fill="#b9d891"/><circle cx="0.3" cy="82.9" r="1.5" fill="#98b467"/><circle cx="29.9" cy="43.6" r="1.2" fill="#a4c775"/><circle cx="-20.2" cy="23.7" r="1.5" fill="#5a8c26"/><circle cx="6" cy="30.5" r="1.1" fill="#b9d891"/><circle cx="-0.9" cy="18" r="1.2" fill="#8cba54"/><circle cx="-22.1" cy="85.2" r="0.7" fill="#7e9e4a"/><circle cx="-11.2" cy="72" r="1.4" fill="#bed59d"/><circle cx="27.8" cy="49.3" r="1" fill="#5f8a2d"/><circle cx="-16.8" cy="87.6" r="1.7" fill="#56762c"/><circle cx="11.4" cy="14" r="1.6" fill="#66982c"/><circle cx="-2.4" cy="15.9" r="1" fill="#a0c86e"/><circle cx="-2.5" cy="100.3" r="0.7" fill="#4a6824"/><circle cx="-5.4" cy="50.5" r="1.2" fill="#6b9634"/><circle cx="-29.1" cy="86.5" r="1.6" fill="#729440"/><circle cx="24.7" cy="42.2" r="0.9" fill="#5d8b2b"/><circle cx="-16.6" cy="55.4" r="1.4" fill="#6c9636"/><circle cx="-9.9" cy="83.3" r="0.8" fill="#c0d4a0"/><circle cx="-15.1" cy="16.5" r="1.2" fill="#72a436"/><circle cx="8.1" cy="2.9" r="1.1" fill="#5a8c26"/><circle cx="-6.1" cy="88" r="1.5" fill="#729440"/><circle cx="3.6" cy="43.4" r="0.8" fill="#a4c775"/><circle cx="-8.9" cy="55.3" r="0.9" fill="#507824"/><circle cx="2.4" cy="95" r="1.4" fill="#668838"/><circle cx="-0.4" cy="90.8" r="1.6" fill="#98b468"/><circle cx="-0.2" cy="23.4" r="1.3" fill="#a0c86e"/><circle cx="3" cy="7" r="1.3" fill="#a0c86e"/><circle cx="24.8" cy="45.1" r="1.6" fill="#bbd795"/><circle cx="1.7" cy="26.5" r="1.7" fill="#72a437"/><circle cx="-22.9" cy="63.9" r="1" fill="#a8c57c"/><circle cx="6.3" cy="45.6" r="1.3" fill="#76a23d"/><circle cx="-18" cy="83.6" r="1" fill="#acc483"/><circle cx="14.9" cy="24.7" r="1.3" fill="#8cba54"/><circle cx="15.8" cy="39.2" r="0.7" fill="#75a33b"/><circle cx="17.8" cy="73.3" r="1.4" fill="#bed59d"/><circle cx="-11.4" cy="86.6" r="1.5" fill="#668838"/><circle cx="19.9" cy="32.7" r="1.3" fill="#4c791e"/><circle cx="0.8" cy="89.7" r="1" fill="#c0d4a0"/><circle cx="-4.8" cy="13.9" r="1.7" fill="#3e6a18"/><circle cx="2.2" cy="40.4" r="1" fill="#81ac47"/><circle cx="6.1" cy="25.8" r="1.3" fill="#5a8c26"/><circle cx="-13.1" cy="22.2" r="0.8" fill="#5a8c26"/><circle cx="-21.1" cy="65.6" r="1.1" fill="#628932"/><circle cx="-11.8" cy="51.3" r="1.4" fill="#5f8a2e"/><circle cx="2.9" cy="86.7" r="1.6" fill="#729440"/><circle cx="-8.1" cy="85.6" r="1" fill="#c0d4a0"/><circle cx="7.5" cy="61.9" r="1.1" fill="#45691f"/><circle cx="23.8" cy="41.5" r="0.8" fill="#5d8b2b"/><circle cx="-22.5" cy="87.1" r="0.8" fill="#56762c"/><circle cx="-1.4" cy="38.1" r="0.9" fill="#699730"/><circle cx="-10.4" cy="21.2" r="1.2" fill="#8cba54"/><circle cx="-16.9" cy="55.6" r="1.3" fill="#78a140"/><circle cx="-6.2" cy="66.8" r="0.8" fill="#628933"/><circle cx="-4.5" cy="27" r="1" fill="#8cba55"/><circle cx="13.6" cy="81" r="0.8" fill="#7d9e49"/><circle cx="-2" cy="95.2" r="1.7" fill="#c0d4a0"/><circle cx="30.1" cy="48.1" r="0.7" fill="#4f7822"/><circle cx="2.7" cy="22.7" r="1" fill="#8cba54"/><circle cx="-3.7" cy="6.3" r="0.8" fill="#a0c86e"/><circle cx="9.7" cy="43.7" r="1.3" fill="#76a23c"/><circle cx="-24.5" cy="84.6" r="1.5" fill="#acc484"/><circle cx="6.1" cy="58.8" r="0.9" fill="#6d9637"/><circle cx="-12.9" cy="58.5" r="1" fill="#618a30"/><circle cx="-9.2" cy="85.6" r="1.1" fill="#acc484"/><circle cx="9.3" cy="63.9" r="1.4" fill="#86aa4f"/><circle cx="4.4" cy="54.8" r="0.7" fill="#78a140"/><circle cx="-17.1" cy="87" r="1.3" fill="#7e9e4a"/><circle cx="6.3" cy="10.6" r="1" fill="#4a7a1c"/><circle cx="-15.8" cy="21.8" r="1.5" fill="#8cba54"/><circle cx="7.9" cy="13.2" r="1" fill="#8cba54"/><circle cx="27.9" cy="40.8" r="1.6" fill="#5d8b2b"/><circle cx="-2.3" cy="22.3" r="1.3" fill="#3e6a18"/><circle cx="12.2" cy="6.5" r="1.2" fill="#66982c"/><circle cx="-15.9" cy="17.4" r="0.8" fill="#66982c"/><circle cx="3.9" cy="95.6" r="1.7" fill="#4a6824"/><circle cx="17.9" cy="30.4" r="1.3" fill="#4b7a1d"/><circle cx="4.6" cy="55.3" r="1.7" fill="#bcd698"/><circle cx="6.2" cy="72.7" r="1.6" fill="#70953c"/><circle cx="-21.5" cy="82.1" r="0.8" fill="#89a855"/><circle cx="7.7" cy="57.5" r="1.3" fill="#84ab4d"/><circle cx="2.4" cy="77.3" r="0.8" fill="#96b565"/><circle cx="17.6" cy="45" r="1.3" fill="#4e7921"/><circle cx="0.5" cy="37.1" r="1.3" fill="#8eb958"/><circle cx="0.1" cy="98" r="0.7" fill="#acc484"/><circle cx="5.8" cy="5.1" r="1" fill="#4a7a1c"/><circle cx="-3.1" cy="45.8" r="1.4" fill="#82ac49"/><circle cx="15" cy="81.8" r="1.4" fill="#97b467"/><circle cx="9.6" cy="40" r="1.5" fill="#bad794"/><circle cx="4.2" cy="52.3" r="1.1" fill="#6b9635"/><circle cx="9.9" cy="64.2" r="1.1" fill="#bdd59a"/><circle cx="0.9" cy="26.2" r="1.5" fill="#8cba54"/><circle cx="32.5" cy="77.8" r="1.5" fill="#97b566"/><circle cx="16.2" cy="32.4" r="1.6" fill="#5b8c28"/><circle cx="-15.3" cy="63" r="1.5" fill="#86aa4f"/><circle cx="-5.2" cy="6.9" r="1.7" fill="#4a7a1c"/><circle cx="8.3" cy="51.1" r="1" fill="#5f8a2e"/><circle cx="-25.3" cy="86.6" r="1.4" fill="#56762c"/><circle cx="-17" cy="64.3" r="1.1" fill="#6e9539"/><circle cx="-6" cy="65.1" r="1.4" fill="#466920"/><circle cx="-21" cy="87.3" r="1.2" fill="#668838"/><circle cx="-19.7" cy="65.8" r="1.3" fill="#628932"/><circle cx="1" cy="23.4" r="0.9" fill="#5a8c26"/><circle cx="16.3" cy="24.3" r="1.5" fill="#3e6a18"/><circle cx="16.1" cy="25.2" r="1" fill="#72a436"/><circle cx="4.8" cy="54.6" r="0.9" fill="#bcd698"/><circle cx="5.8" cy="88.6" r="0.8" fill="#8aa856"/><circle cx="9.2" cy="8.3" r="1" fill="#66982c"/><circle cx="-7.3" cy="65.6" r="1.6" fill="#466920"/><circle cx="-1.1" cy="85.9" r="1.3" fill="#acc484"/><circle cx="3.7" cy="6.4" r="1.1" fill="#a0c86e"/><circle cx="-9.5" cy="8.3" r="1.6" fill="#a0c86e"/><circle cx="-4.6" cy="31.3" r="1.2" fill="#73a338"/><circle cx="1.4" cy="96.3" r="1.2" fill="#729440"/><circle cx="-20.6" cy="89.2" r="1.5" fill="#c0d4a0"/><circle cx="1.3" cy="10.1" r="1.1" fill="#72a436"/><circle cx="0.4" cy="55.9" r="0.7" fill="#44691e"/><circle cx="7.4" cy="57.5" r="1" fill="#618a30"/><circle cx="-7.3" cy="65.3" r="1.5" fill="#466920"/><circle cx="-10.4" cy="67.3" r="1.5" fill="#466920"/><circle cx="-16.5" cy="26.3" r="0.8" fill="#4a7a1c"/><circle cx="-1.3" cy="24.6" r="0.8" fill="#b8d890"/><circle cx="-4.6" cy="15.8" r="1.1" fill="#7eae42"/><circle cx="2.7" cy="97.2" r="1.6" fill="#4a6824"/><circle cx="16.9" cy="39.2" r="1.3" fill="#5d8b2a"/><circle cx="-6.2" cy="79.6" r="1.4" fill="#71943e"/><circle cx="7.8" cy="64.1" r="0.8" fill="#628932"/><circle cx="3.3" cy="93.4" r="0.7" fill="#668838"/><circle cx="-6.6" cy="47.7" r="1.5" fill="#77a23e"/><circle cx="-2.3" cy="14" r="1.2" fill="#4a7a1c"/><circle cx="7.5" cy="56.1" r="0.7" fill="#92b75e"/><circle cx="-2.4" cy="89.4" r="1.7" fill="#668838"/><circle cx="-10.3" cy="19.8" r="0.7" fill="#5a8c26"/><circle cx="-3" cy="5.2" r="1" fill="#66982c"/><circle cx="18.4" cy="25.8" r="1.6" fill="#7eae42"/><circle cx="-9.7" cy="13.9" r="1.7" fill="#a0c86e"/><circle cx="3.4" cy="54.5" r="0.7" fill="#44691e"/><circle cx="-13.7" cy="65.4" r="1.5" fill="#628932"/><circle cx="-1.3" cy="36.8" r="1.2" fill="#5c8b2a"/><circle cx="-1" cy="7.9" r="0.9" fill="#7eae42"/><circle cx="24.3" cy="75.8" r="1" fill="#648935"/><circle cx="-9.5" cy="78.1" r="0.8" fill="#7d9f48"/><circle cx="5.9" cy="17.3" r="1" fill="#4a7a1c"/><circle cx="-8.2" cy="5.2" r="1.4" fill="#b8d890"/><circle cx="-14.5" cy="68.5" r="0.9" fill="#476921"/><circle cx="2.9" cy="2.6" r="1.5" fill="#a0c86e"/><circle cx="-17.6" cy="57" r="1" fill="#84ab4d"/><circle cx="-21" cy="65.4" r="1" fill="#94b661"/><circle cx="27.8" cy="43.6" r="1.1" fill="#5e8b2c"/><circle cx="4.5" cy="73.7" r="1.6" fill="#aac580"/><circle cx="2" cy="33.4" r="1.2" fill="#74a339"/><circle cx="9.9" cy="83.6" r="1.4" fill="#668838"/><circle cx="-4.7" cy="48.3" r="0.9" fill="#77a23e"/><circle cx="6.2" cy="27.3" r="0.9" fill="#7eae43"/><circle cx="17.7" cy="46.9" r="1.6" fill="#4e7922"/><circle cx="-11.7" cy="66" r="0.8" fill="#527727"/><circle cx="2.8" cy="54.5" r="1.5" fill="#84ab4c"/><circle cx="-20" cy="78.5" r="0.9" fill="#97b566"/><circle cx="-11.8" cy="56.4" r="0.8" fill="#608a2f"/><circle cx="3.3" cy="54.2" r="0.8" fill="#507824"/><circle cx="-7.4" cy="24.5" r="1" fill="#3e6a18"/><circle cx="-17.5" cy="64.5" r="0.9" fill="#628932"/><circle cx="0.2" cy="39.2" r="1.2" fill="#416a1b"/><circle cx="-3.8" cy="32.2" r="1.1" fill="#5b8c28"/><circle cx="1.4" cy="60.8" r="0.7" fill="#85aa4e"/><circle cx="-11.7" cy="51" r="0.9" fill="#91b75d"/><circle cx="-7.2" cy="9.4" r="1.4" fill="#5a8c26"/><circle cx="0.6" cy="39.5" r="1.3" fill="#75a33b"/><circle cx="7.2" cy="42.1" r="1.5" fill="#a3c774"/><circle cx="2.2" cy="72.6" r="1.4" fill="#486822"/><circle cx="-0.8" cy="92.7" r="1.6" fill="#acc484"/><circle cx="5.3" cy="49.6" r="1.3" fill="#6b9634"/><circle cx="25.3" cy="71.7" r="1.3" fill="#bed59c"/><circle cx="9" cy="74.1" r="1.3" fill="#aac580"/><circle cx="-22.8" cy="89.3" r="1.4" fill="#7e9e4a"/><circle cx="13.7" cy="79.1" r="1.2" fill="#7d9f48"/><circle cx="-5.6" cy="63.3" r="1.1" fill="#86aa4f"/><circle cx="-15.4" cy="25.1" r="1" fill="#4a7a1c"/><circle cx="-31.7" cy="82.5" r="1.5" fill="#abc483"/><circle cx="0.5" cy="64.6" r="1.6" fill="#6e9539"/><circle cx="10.8" cy="5.2" r="1.4" fill="#72a436"/><circle cx="15.3" cy="41" r="1.2" fill="#81ac47"/><circle cx="-17.3" cy="67.6" r="0.9" fill="#537727"/><circle cx="-19.7" cy="58.8" r="0.8" fill="#45691f"/><circle cx="7.1" cy="84.8" r="1.4" fill="#668838"/><circle cx="-14.5" cy="54.6" r="1.2" fill="#507824"/><circle cx="-12.7" cy="22.3" r="1.2" fill="#72a436"/><circle cx="-16.5" cy="56.8" r="1.2" fill="#6c9637"/><circle cx="0.7" cy="88.8" r="1.3" fill="#729440"/><circle cx="-12.8" cy="85.8" r="1.3" fill="#7e9e4a"/><circle cx="16.5" cy="80.4" r="1.5" fill="#658837"/><circle cx="6.1" cy="54.2" r="1" fill="#44691e"/><circle cx="31.9" cy="41" r="1" fill="#5d8b2b"/><circle cx="-23.2" cy="78.5" r="1.4" fill="#658836"/><circle cx="-1.3" cy="96.6" r="1.3" fill="#729440"/><circle cx="0" cy="0.6" r="1.5" fill="#7eae42"/><circle cx="-16.7" cy="67.7" r="1.7" fill="#87aa50"/><circle cx="-25.7" cy="89" r="1.4" fill="#668838"/><circle cx="-19.8" cy="61.4" r="1.2" fill="#85aa4e"/><circle cx="7.2" cy="78.3" r="1.6" fill="#658836"/><circle cx="-10.3" cy="28.7" r="1.6" fill="#4b7a1d"/><circle cx="15.4" cy="49.4" r="1.1" fill="#4f7823"/><circle cx="9.8" cy="4.8" r="1.6" fill="#a0c86e"/><circle cx="4.5" cy="12.1" r="1.2" fill="#8cba54"/><circle cx="-4.1" cy="84.3" r="1.2" fill="#729440"/><circle cx="8.5" cy="78.6" r="0.8" fill="#71943e"/><circle cx="-9.9" cy="25.5" r="1.5" fill="#5a8c26"/><circle cx="0.4" cy="99" r="1" fill="#7e9e4a"/><circle cx="-19" cy="65.2" r="1.6" fill="#628932"/><circle cx="-19.9" cy="82.1" r="1.2" fill="#7d9e49"/><circle cx="32.4" cy="78" r="0.9" fill="#71943e"/><circle cx="19.8" cy="32.4" r="0.9" fill="#5b8c28"/><circle cx="15.5" cy="48.6" r="1.6" fill="#4f7822"/><circle cx="5.6" cy="76.6" r="1.5" fill="#648935"/><circle cx="14.8" cy="41.8" r="1" fill="#81ac48"/><circle cx="8.5" cy="63" r="1.5" fill="#7aa043"/><circle cx="-10.3" cy="60.5" r="1.3" fill="#45691f"/><circle cx="-6.5" cy="29.3" r="1.3" fill="#4b7a1d"/><circle cx="-19.1" cy="51.7" r="1.1" fill="#77a13f"/><circle cx="2.1" cy="60.6" r="1" fill="#a7c67b"/><circle cx="7.9" cy="12.7" r="1.5" fill="#5a8c26"/><circle cx="23.2" cy="52.3" r="1.4" fill="#4f7823"/><circle cx="-17.9" cy="24.6" r="1.1" fill="#5a8c26"/><circle cx="7.2" cy="29.6" r="0.9" fill="#7fae44"/><circle cx="6" cy="1.9" r="1" fill="#7eae42"/><circle cx="29.6" cy="44.4" r="1" fill="#6a9732"/><circle cx="-5.8" cy="19.7" r="0.7" fill="#72a436"/><circle cx="0.4" cy="25.3" r="0.9" fill="#3e6a18"/><circle cx="-4.5" cy="86.3" r="1.6" fill="#4a6824"/><circle cx="21.6" cy="81" r="1.2" fill="#658837"/><circle cx="3.7" cy="34.5" r="1.1" fill="#5c8b29"/><circle cx="4.8" cy="5.8" r="0.8" fill="#5a8c26"/><circle cx="-3.5" cy="33.5" r="1.4" fill="#74a339"/><circle cx="-15.3" cy="69.3" r="1.6" fill="#638933"/><circle cx="-2.8" cy="55.6" r="0.9" fill="#608a2f"/><circle cx="-9.6" cy="69.1" r="1.3" fill="#537728"/><circle cx="-2.5" cy="36.5" r="1.4" fill="#689730"/><circle cx="5.4" cy="11.1" r="1" fill="#b8d890"/><circle cx="-6.4" cy="85.5" r="1.3" fill="#8aa856"/><circle cx="12" cy="85.3" r="1.7" fill="#4a6824"/><circle cx="0" cy="41.2" r="1.4" fill="#a3c774"/><circle cx="-9.5" cy="84.8" r="1.6" fill="#56762c"/><circle cx="10.7" cy="77.8" r="0.9" fill="#97b566"/><circle cx="19.7" cy="30.1" r="1.2" fill="#67982e"/><circle cx="17.6" cy="29.3" r="0.9" fill="#5b8c27"/><circle cx="4.3" cy="39" r="1" fill="#699731"/><circle cx="8.7" cy="48.6" r="1.3" fill="#5f8a2d"/><circle cx="-3.3" cy="40.9" r="1.1" fill="#75a23b"/><circle cx="21.6" cy="78.3" r="0.8" fill="#97b566"/><circle cx="2" cy="32.7" r="1.5" fill="#5c8b28"/><circle cx="-0.4" cy="36" r="1.3" fill="#5c8b29"/><circle cx="3.6" cy="77" r="0.7" fill="#bfd59e"/><circle cx="-5.5" cy="15.7" r="1.4" fill="#7eae42"/><circle cx="-8.4" cy="23.9" r="0.8" fill="#3e6a18"/><circle cx="-3.5" cy="57.5" r="1.1" fill="#79a141"/><circle cx="15.6" cy="35.7" r="1.2" fill="#80ad46"/><circle cx="13.3" cy="79.1" r="1.6" fill="#71943e"/><circle cx="13.3" cy="83.8" r="1.1" fill="#7e9e4a"/><circle cx="13.2" cy="46.1" r="1.1" fill="#4e7922"/><circle cx="-2.8" cy="52.2" r="1.5" fill="#91b75d"/><circle cx="30.6" cy="73.2" r="1" fill="#70953c"/><circle cx="7" cy="14.9" r="1.1" fill="#4a7a1c"/><circle cx="0.5" cy="84.6" r="1.2" fill="#7e9e4a"/><circle cx="-9.9" cy="66.4" r="0.8" fill="#466920"/><circle cx="3.9" cy="54.9" r="1.3" fill="#92b75e"/><circle cx="27.1" cy="78.5" r="1" fill="#55762a"/><circle cx="-2.6" cy="34" r="1" fill="#4c791e"/><circle cx="-14.2" cy="66.3" r="1.5" fill="#6e953a"/><circle cx="12.2" cy="32.3" r="1.1" fill="#73a338"/><circle cx="28.1" cy="45.9" r="0.7" fill="#5e8b2c"/><circle cx="12" cy="42.9" r="1.6" fill="#6a9732"/><circle cx="18.2" cy="47.1" r="1.5" fill="#90b85b"/><circle cx="28.6" cy="48" r="0.9" fill="#77a23e"/><circle cx="10.3" cy="7.2" r="1.3" fill="#4a7a1c"/><circle cx="5.8" cy="24.5" r="1.3" fill="#7eae42"/><circle cx="0.9" cy="85" r="1.1" fill="#8aa856"/><circle cx="8.8" cy="67.6" r="1.1" fill="#638933"/><circle cx="1.1" cy="5" r="0.9" fill="#5a8c26"/><circle cx="7.1" cy="13.6" r="0.8" fill="#4a7a1c"/><circle cx="2.2" cy="12.1" r="1.1" fill="#66982c"/><circle cx="-14.8" cy="66.9" r="1.1" fill="#466920"/><circle cx="24" cy="76.2" r="1.1" fill="#70953d"/><circle cx="22" cy="41.3" r="1.1" fill="#a3c774"/><circle cx="11.6" cy="79.1" r="1.1" fill="#71943e"/><circle cx="-4.5" cy="16.4" r="1.4" fill="#3e6a18"/><circle cx="13.7" cy="82.3" r="0.9" fill="#496823"/><circle cx="-8.3" cy="87.6" r="1.1" fill="#56762c"/><circle cx="-8.9" cy="66" r="0.9" fill="#466920"/><circle cx="-7.5" cy="59.9" r="1.3" fill="#618a30"/><circle cx="18.5" cy="28.9" r="0.8" fill="#5b8c27"/><circle cx="-7.5" cy="12.7" r="1.2" fill="#a0c86e"/><circle cx="10.3" cy="66.6" r="1" fill="#6e953a"/><circle cx="-11.1" cy="22.7" r="1.2" fill="#5a8c26"/><circle cx="25.3" cy="40.7" r="1.3" fill="#75a23b"/><circle cx="-0" cy="43.9" r="1.3" fill="#bbd795"/><circle cx="0.1" cy="101.4" r="1.5" fill="#7e9e4a"/><circle cx="5.9" cy="63.9" r="1.1" fill="#a8c57c"/><circle cx="17.8" cy="76.5" r="1.1" fill="#7c9f47"/><circle cx="9.3" cy="69.3" r="1.1" fill="#638933"/><circle cx="-2.2" cy="96.7" r="1.6" fill="#56762c"/><circle cx="8.1" cy="81.1" r="0.9" fill="#7d9e49"/><circle cx="2.9" cy="55.5" r="1.5" fill="#507824"/><circle cx="29.6" cy="80.3" r="1.3" fill="#496823"/><circle cx="16.7" cy="47.2" r="1.3" fill="#90b85b"/><circle cx="25.6" cy="38.8" r="1.5" fill="#8fb959"/><circle cx="-9.3" cy="61.3" r="1.5" fill="#bdd69a"/><circle cx="11.4" cy="76.6" r="1.6" fill="#96b565"/><circle cx="0.6" cy="4.7" r="1.7" fill="#5a8c26"/><circle cx="19.1" cy="51.8" r="1.2" fill="#4f7823"/><circle cx="19.7" cy="49" r="1.2" fill="#6b9634"/><circle cx="-10.4" cy="72" r="0.9" fill="#476821"/><circle cx="5" cy="54" r="0.9" fill="#44691e"/><circle cx="14.1" cy="44.3" r="1.4" fill="#6a9732"/><circle cx="20.5" cy="32.7" r="0.8" fill="#5c8b28"/><circle cx="-0.1" cy="22.7" r="1.3" fill="#66982c"/><circle cx="2.3" cy="71" r="1.7" fill="#7b9f45"/><circle cx="3.4" cy="39.9" r="1.5" fill="#699731"/><circle cx="-1.2" cy="96.5" r="0.9" fill="#668838"/><circle cx="1.8" cy="56" r="0.8" fill="#bcd698"/><circle cx="-4.9" cy="15.2" r="1.6" fill="#5a8c26"/><circle cx="-16.5" cy="53.2" r="0.8" fill="#84ab4b"/><circle cx="25.3" cy="40.8" r="0.7" fill="#8fb859"/><circle cx="20.7" cy="75.9" r="1.2" fill="#648935"/><circle cx="-2.1" cy="38.3" r="0.8" fill="#a3c773"/><circle cx="4.8" cy="38.2" r="1.3" fill="#5d8b2a"/><circle cx="-15.5" cy="17.6" r="1.1" fill="#8cba54"/><circle cx="26" cy="51.3" r="1.6" fill="#4f7823"/><circle cx="23" cy="77.9" r="1.6" fill="#bfd49e"/><circle cx="-17.4" cy="54.5" r="1.7" fill="#6c9636"/><circle cx="25.8" cy="72.4" r="1" fill="#537729"/><circle cx="23.8" cy="47.3" r="1" fill="#76a23d"/><circle cx="-28.3" cy="80.8" r="1.2" fill="#97b467"/><circle cx="-1.9" cy="2.9" r="0.8" fill="#a0c86e"/><circle cx="-3.1" cy="23.5" r="1.1" fill="#66982c"/><circle cx="9.2" cy="12.7" r="1.5" fill="#72a436"/><circle cx="-1.7" cy="25.3" r="0.7" fill="#8cba54"/><circle cx="15.4" cy="42.3" r="0.8" fill="#699732"/><circle cx="5.3" cy="86.8" r="1.6" fill="#668838"/><circle cx="16.4" cy="41.2" r="0.8" fill="#5d8b2b"/><circle cx="-10.9" cy="18" r="1" fill="#66982c"/><circle cx="-11.7" cy="81.1" r="1.5" fill="#71943f"/><circle cx="0.9" cy="14.9" r="1.3" fill="#5a8c26"/><circle cx="29.5" cy="49.2" r="1.5" fill="#43691d"/><circle cx="16.1" cy="78.8" r="0.8" fill="#7d9f48"/><circle cx="0.8" cy="87.2" r="1.1" fill="#668838"/><circle cx="4.2" cy="40.1" r="1" fill="#bad794"/><circle cx="7.3" cy="57.1" r="1.4" fill="#a6c67a"/><circle cx="3.2" cy="82.2" r="1.4" fill="#7d9e49"/><circle cx="-1.4" cy="42" r="0.9" fill="#8fb85a"/><circle cx="-1.2" cy="20.8" r="1.4" fill="#7eae42"/><circle cx="-3.1" cy="51.3" r="1.1" fill="#5f8a2e"/><circle cx="4.3" cy="91.3" r="1.4" fill="#4a6824"/><circle cx="-18.6" cy="79.4" r="1.7" fill="#97b566"/><circle cx="3.5" cy="22.6" r="1.2" fill="#a0c86e"/><circle cx="25.3" cy="81.9" r="1.4" fill="#55762b"/><circle cx="-4.8" cy="49.7" r="1.2" fill="#83ac4a"/><circle cx="4.7" cy="76.8" r="1" fill="#54772a"/><circle cx="-12.1" cy="84.3" r="1.4" fill="#8aa856"/><circle cx="28.6" cy="38.5" r="1.2" fill="#bad794"/><circle cx="-3.1" cy="20.2" r="1.3" fill="#3e6a18"/><circle cx="-9.4" cy="28.1" r="1.7" fill="#73a437"/><circle cx="-16.3" cy="79.4" r="0.8" fill="#bfd49f"/><circle cx="-22.8" cy="81.2" r="1" fill="#658837"/><circle cx="25" cy="73" r="1.5" fill="#70953c"/><circle cx="-18.1" cy="50.2" r="1.1" fill="#4f7823"/><circle cx="-6.6" cy="90" r="1.7" fill="#7e9e4a"/><circle cx="-0.3" cy="11.7" r="1" fill="#5a8c26"/><circle cx="4.7" cy="25.1" r="1.3" fill="#a0c86e"/><circle cx="-10.6" cy="26.3" r="1.3" fill="#5a8c26"/><circle cx="-23.7" cy="80.5" r="1.6" fill="#97b467"/><circle cx="4.2" cy="46.6" r="1.4" fill="#82ac49"/><circle cx="-18.6" cy="87.1" r="1.7" fill="#7e9e4a"/><circle cx="4.9" cy="41.5" r="1.3" fill="#81ac47"/><circle cx="8.3" cy="84.9" r="0.7" fill="#7e9e4a"/><circle cx="-12.7" cy="22.5" r="1.4" fill="#72a436"/><circle cx="-18.6" cy="22.2" r="0.9" fill="#7eae42"/><circle cx="-11.9" cy="83.2" r="1.2" fill="#98b467"/><circle cx="-18.1" cy="67.1" r="1.7" fill="#527727"/><circle cx="8.2" cy="2.2" r="1.2" fill="#8cba54"/><circle cx="-7.3" cy="65.3" r="0.7" fill="#628932"/><circle cx="1.5" cy="85" r="1.3" fill="#acc484"/><circle cx="-0.1" cy="33.2" r="1.6" fill="#a2c771"/><circle cx="-1.3" cy="31" r="1.6" fill="#5b8c28"/><circle cx="-3.8" cy="87.6" r="1" fill="#98b468"/><circle cx="-5" cy="93.6" r="1.7" fill="#4a6824"/><circle cx="-16.4" cy="86.5" r="1.3" fill="#668838"/><circle cx="-16.9" cy="58.9" r="1.2" fill="#bdd699"/><circle cx="-2.4" cy="12.9" r="0.9" fill="#66982c"/><circle cx="9.9" cy="62.3" r="1.2" fill="#85aa4e"/><circle cx="26.8" cy="37.3" r="1.3" fill="#74a33a"/><circle cx="-19.9" cy="23.3" r="1.3" fill="#a0c86e"/><circle cx="27.6" cy="51.6" r="1" fill="#a5c678"/><circle cx="16.4" cy="46.1" r="1" fill="#76a23d"/><circle cx="-4.3" cy="15" r="1.2" fill="#66982c"/><circle cx="13" cy="25.8" r="0.9" fill="#7eae42"/><circle cx="3.3" cy="38.3" r="0.7" fill="#a3c773"/><circle cx="23.8" cy="48.3" r="1.6" fill="#a5c677"/><circle cx="-1.9" cy="39.2" r="1.3" fill="#81ad47"/><circle cx="29" cy="39.6" r="0.7" fill="#5d8b2a"/><circle cx="14.5" cy="25.1" r="0.8" fill="#3e6a18"/><circle cx="21.5" cy="73.2" r="0.8" fill="#70953c"/><circle cx="1.2" cy="3.3" r="1.5" fill="#8cba54"/><circle cx="2.8" cy="9" r="1.2" fill="#a0c86e"/><circle cx="6.5" cy="45.9" r="1.6" fill="#6a9733"/><circle cx="-2.2" cy="22.7" r="1.3" fill="#3e6a18"/><circle cx="7" cy="77.3" r="1.1" fill="#aac581"/><circle cx="7.4" cy="55.9" r="1.3" fill="#84ab4c"/><circle cx="-16.3" cy="15.6" r="1.2" fill="#a0c86e"/><circle cx="-5.4" cy="15.8" r="0.8" fill="#7eae42"/><circle cx="26.8" cy="52.1" r="1.5" fill="#43691d"/><circle cx="14.9" cy="44.4" r="1.6" fill="#a4c775"/><circle cx="-3.6" cy="4.2" r="1.6" fill="#7eae42"/><circle cx="23.8" cy="75.7" r="1.3" fill="#7c9f47"/><circle cx="-10.1" cy="16.3" r="1.5" fill="#72a436"/><circle cx="4.7" cy="55.2" r="1.1" fill="#507824"/><circle cx="2.3" cy="10.7" r="1.7" fill="#a0c86e"/><circle cx="0" cy="37.5" r="1.3" fill="#416a1b"/><circle cx="-12.7" cy="23.7" r="1.1" fill="#66982c"/><circle cx="3.3" cy="67.2" r="0.8" fill="#6e953a"/><circle cx="-9.3" cy="81.4" r="1.2" fill="#496823"/><circle cx="23.8" cy="71.5" r="0.9" fill="#95b563"/><circle cx="-7.3" cy="8.7" r="1.5" fill="#5a8c26"/><circle cx="16.4" cy="26.5" r="1.4" fill="#a0c86f"/><circle cx="4" cy="38.9" r="1.3" fill="#5d8b2a"/><circle cx="-11.6" cy="26.2" r="1.5" fill="#4a7a1c"/><circle cx="-24.8" cy="78.9" r="1.1" fill="#abc482"/><circle cx="-0.8" cy="85.6" r="0.8" fill="#98b468"/><circle cx="-21.6" cy="85.6" r="0.8" fill="#c0d4a0"/><circle cx="-16.2" cy="79.5" r="1.3" fill="#71943e"/><circle cx="-14.2" cy="17.8" r="0.8" fill="#72a436"/><circle cx="-2.6" cy="23" r="1.2" fill="#7eae42"/><circle cx="-18.8" cy="20.5" r="1.1" fill="#66982c"/><circle cx="15.6" cy="48.5" r="1.6" fill="#77a23e"/><circle cx="13.3" cy="32.2" r="1.6" fill="#5b8c28"/><circle cx="19" cy="46.5" r="1.1" fill="#76a23d"/><circle cx="6.1" cy="80.7" r="1.1" fill="#abc482"/><circle cx="29.8" cy="72.4" r="1.4" fill="#95b564"/><circle cx="32" cy="46.4" r="1" fill="#6a9733"/><circle cx="4.7" cy="62.8" r="0.9" fill="#527726"/><circle cx="7.9" cy="30.4" r="1.2" fill="#3f6a19"/><circle cx="23.7" cy="71.5" r="1.7" fill="#95b564"/><circle cx="9.5" cy="7.8" r="1.7" fill="#4a7a1c"/><circle cx="-18.8" cy="70.4" r="1.3" fill="#638934"/><circle cx="-4.1" cy="6.3" r="1.5" fill="#b8d890"/><circle cx="14.5" cy="43.6" r="1.1" fill="#a4c775"/><circle cx="-0.3" cy="93.5" r="1.1" fill="#56762c"/><circle cx="18.8" cy="28.5" r="0.8" fill="#4b7a1d"/><circle cx="-9.6" cy="27.2" r="1.1" fill="#4a7a1d"/><circle cx="-15.5" cy="67.4" r="1.5" fill="#94b662"/><circle cx="-12.7" cy="18.6" r="1.2" fill="#5a8c26"/><circle cx="-27.6" cy="81.8" r="1.3" fill="#55762b"/><circle cx="5.3" cy="37.1" r="1.1" fill="#406a1a"/><circle cx="-14.2" cy="19" r="1.2" fill="#3e6a18"/><circle cx="9" cy="85.6" r="1" fill="#56762c"/><circle cx="-10" cy="86.1" r="1.5" fill="#4a6824"/><circle cx="-17.9" cy="71.7" r="0.7" fill="#bed59c"/><circle cx="25.5" cy="48.2" r="0.8" fill="#77a23e"/><circle cx="5.4" cy="41.4" r="1.3" fill="#bad794"/><circle cx="5" cy="84.3" r="0.8" fill="#98b468"/><circle cx="-6.6" cy="8.2" r="1.6" fill="#b8d890"/><circle cx="7.3" cy="56.5" r="1.6" fill="#6c9637"/><circle cx="-5.6" cy="82.3" r="1.1" fill="#89a855"/><circle cx="-13.2" cy="70.3" r="1.4" fill="#537728"/><circle cx="11.3" cy="5.2" r="0.8" fill="#7eae42"/><circle cx="4.6" cy="57.1" r="0.9" fill="#507825"/><circle cx="4.9" cy="13.1" r="1" fill="#4a7a1c"/><circle cx="-16.3" cy="49.4" r="1" fill="#91b85c"/><circle cx="-6.1" cy="49" r="0.9" fill="#6b9634"/><circle cx="29.6" cy="75.6" r="1.3" fill="#648935"/><circle cx="21.1" cy="53.5" r="0.9" fill="#608a2f"/><circle cx="21" cy="53.7" r="1" fill="#44691e"/><circle cx="-8.7" cy="62.3" r="1.2" fill="#85aa4e"/><circle cx="-11.7" cy="26.5" r="1.7" fill="#5a8c26"/><circle cx="-6.6" cy="55.7" r="1.4" fill="#6c9636"/><circle cx="20.9" cy="74.1" r="1.5" fill="#70953c"/><circle cx="-6.7" cy="45.9" r="1.7" fill="#4e7922"/><circle cx="-20.7" cy="56.8" r="1.1" fill="#507824"/><circle cx="19.8" cy="75.4" r="1.6" fill="#7c9f47"/><circle cx="26.2" cy="38.8" r="0.9" fill="#5d8b2a"/><circle cx="-13.1" cy="52.9" r="1.5" fill="#bcd697"/><circle cx="-25.1" cy="85.3" r="1.4" fill="#7e9e4a"/><circle cx="5.4" cy="53.8" r="1.1" fill="#84ab4c"/><circle cx="-5" cy="5.3" r="1.2" fill="#7eae42"/><circle cx="2.7" cy="76.6" r="1.2" fill="#54772a"/><circle cx="-12.4" cy="86.7" r="0.9" fill="#56762c"/><circle cx="-1.2" cy="49.1" r="1.4" fill="#77a23e"/><circle cx="-18.5" cy="70.4" r="1.6" fill="#476821"/><circle cx="-21.7" cy="78.6" r="1" fill="#abc482"/><circle cx="8.5" cy="40.1" r="0.9" fill="#8fb859"/><circle cx="14.7" cy="77.7" r="1" fill="#bfd49e"/><circle cx="-18.4" cy="80.2" r="1.2" fill="#89a854"/><circle cx="-16.1" cy="55.5" r="0.9" fill="#608a2f"/><circle cx="14.8" cy="78.8" r="1" fill="#7d9f48"/><circle cx="-7.9" cy="19.7" r="1.7" fill="#5a8c26"/><circle cx="5.5" cy="57.8" r="1.5" fill="#85ab4d"/><circle cx="-1.3" cy="38.3" r="1.6" fill="#a3c773"/><circle cx="3.7" cy="9.4" r="0.7" fill="#a0c86e"/><circle cx="7.2" cy="27.3" r="1.2" fill="#66982d"/><circle cx="21.9" cy="72.7" r="0.7" fill="#648934"/><circle cx="2.4" cy="64.8" r="1.3" fill="#6e9539"/><circle cx="12.9" cy="8.8" r="1.1" fill="#66982c"/><circle cx="-18.6" cy="79.8" r="1.1" fill="#abc482"/><circle cx="12.8" cy="29.1" r="1.1" fill="#8dba55"/><circle cx="-24.9" cy="79.2" r="1.4" fill="#89a954"/><circle cx="-2.9" cy="45.3" r="1.3" fill="#4e7921"/><circle cx="-0.1" cy="88.2" r="0.7" fill="#8aa856"/><circle cx="-0.6" cy="95.4" r="1.3" fill="#56762c"/><circle cx="-15.6" cy="67.2" r="1.1" fill="#527727"/><circle cx="-15.8" cy="60.6" r="1.2" fill="#618a31"/><circle cx="-15" cy="23.8" r="0.8" fill="#5a8c26"/><circle cx="-5.4" cy="59.5" r="1" fill="#85ab4e"/><circle cx="-22.6" cy="80.4" r="1.4" fill="#97b466"/><circle cx="26.2" cy="43.2" r="1.1" fill="#5e8b2b"/><circle cx="-18.2" cy="84.3" r="1.7" fill="#729440"/><circle cx="-17.1" cy="70.3" r="1.3" fill="#537728"/><circle cx="15.2" cy="49.6" r="1.5" fill="#43691d"/><circle cx="30.5" cy="79.9" r="1.5" fill="#496823"/><circle cx="-11.6" cy="59.8" r="1.3" fill="#bdd699"/><circle cx="0.4" cy="54.2" r="1.2" fill="#608a2f"/><circle cx="-7.9" cy="22.2" r="1.1" fill="#b8d890"/><circle cx="-20.5" cy="63.4" r="1.2" fill="#527726"/><circle cx="1.7" cy="12.5" r="0.9" fill="#4a7a1c"/><circle cx="-0.9" cy="22.8" r="1.2" fill="#7eae42"/><circle cx="-1.7" cy="86.8" r="0.9" fill="#729440"/><circle cx="-4.1" cy="93" r="0.9" fill="#8aa856"/><circle cx="-2" cy="17.5" r="0.8" fill="#7eae42"/><circle cx="-8.8" cy="63.3" r="0.8" fill="#6e9539"/><circle cx="-8.6" cy="18.1" r="1.7" fill="#8cba54"/><circle cx="-16.7" cy="21.3" r="0.7" fill="#66982c"/><circle cx="-3.4" cy="43.5" r="1.7" fill="#a4c775"/><circle cx="-4.5" cy="93" r="1.6" fill="#668838"/><circle cx="16.8" cy="49.4" r="0.8" fill="#6b9634"/><circle cx="1.5" cy="92" r="1.4" fill="#c0d4a0"/><circle cx="-2.1" cy="98.5" r="0.7" fill="#668838"/><circle cx="17.3" cy="27.7" r="0.9" fill="#73a437"/><circle cx="2.5" cy="99" r="1.2" fill="#56762c"/><circle cx="3.8" cy="30.8" r="1.5" fill="#3f6a19"/><circle cx="6.3" cy="88.3" r="0.9" fill="#729440"/><circle cx="26.3" cy="78.3" r="1.2" fill="#496823"/><circle cx="-2.2" cy="31.1" r="1.2" fill="#67982e"/><circle cx="-0.6" cy="40.3" r="0.8" fill="#75a23b"/><circle cx="1" cy="67.8" r="1.4" fill="#638933"/><circle cx="-8.8" cy="69.5" r="1.7" fill="#87aa51"/><circle cx="-4.5" cy="34.8" r="0.8" fill="#5c8b29"/><circle cx="-12.4" cy="53.8" r="1.3" fill="#507824"/><circle cx="0.8" cy="55.9" r="1.4" fill="#78a140"/><circle cx="28.3" cy="51" r="1.6" fill="#6b9635"/><circle cx="3.5" cy="10.4" r="1.3" fill="#5a8c26"/><circle cx="0.4" cy="98.5" r="1.2" fill="#8aa856"/><circle cx="-9.4" cy="68.4" r="1.1" fill="#638933"/><circle cx="-17" cy="27.2" r="1.2" fill="#5a8c27"/><circle cx="-10.5" cy="24.3" r="0.9" fill="#a0c86e"/><circle cx="10.3" cy="3.8" r="1" fill="#66982c"/><circle cx="-4" cy="24.2" r="1.5" fill="#a0c86e"/><circle cx="0.6" cy="5.8" r="0.8" fill="#66982c"/><circle cx="12.7" cy="32.2" r="1.3" fill="#5b8c28"/><circle cx="12.8" cy="77.8" r="1.5" fill="#bfd49e"/><circle cx="-28.3" cy="79.7" r="0.8" fill="#abc482"/><circle cx="7" cy="3.8" r="0.7" fill="#a0c86e"/><circle cx="13.2" cy="29.5" r="1.5" fill="#4b7a1d"/><circle cx="-2.4" cy="22" r="1.6" fill="#66982c"/><circle cx="11.4" cy="86.1" r="0.9" fill="#7e9e4a"/><circle cx="12.4" cy="5.5" r="1.5" fill="#5a8c26"/><circle cx="4.5" cy="46.9" r="1.4" fill="#6a9733"/><circle cx="30.7" cy="77.4" r="1" fill="#aac581"/><circle cx="-12.1" cy="83.8" r="0.8" fill="#56762c"/><circle cx="-15.8" cy="22.9" r="1.5" fill="#4a7a1c"/><circle cx="19.9" cy="45.1" r="0.7" fill="#90b85b"/><circle cx="12.1" cy="41.1" r="0.8" fill="#699731"/><circle cx="-22" cy="86.5" r="0.9" fill="#c0d4a0"/><circle cx="-16.9" cy="80.1" r="1" fill="#abc482"/><circle cx="-14.8" cy="49.3" r="0.9" fill="#77a23e"/><circle cx="-3.8" cy="25.5" r="1.3" fill="#3e6a18"/><circle cx="5.6" cy="53.7" r="1.1" fill="#a6c679"/><circle cx="25.2" cy="39.3" r="0.8" fill="#75a33b"/><circle cx="-2.2" cy="92.5" r="1.1" fill="#98b468"/><circle cx="0.8" cy="11.4" r="1.3" fill="#66982c"/><circle cx="7.8" cy="6.5" r="0.9" fill="#72a436"/><circle cx="-3.5" cy="16.6" r="1.7" fill="#8cba54"/><circle cx="-2.2" cy="34.5" r="1.7" fill="#4c791f"/><circle cx="9.6" cy="7" r="1.6" fill="#8cba54"/><circle cx="26.8" cy="74.3" r="1.3" fill="#96b564"/><circle cx="9.4" cy="66.2" r="0.8" fill="#7aa044"/><circle cx="7" cy="74.9" r="1.7" fill="#648935"/><circle cx="12.2" cy="13" r="1.5" fill="#5a8c26"/><circle cx="17.6" cy="44.5" r="1.6" fill="#76a23d"/><circle cx="-8.5" cy="70.1" r="0.8" fill="#638934"/><circle cx="0.3" cy="37.9" r="0.7" fill="#4d791f"/><circle cx="7.5" cy="40.6" r="1.1" fill="#5d8b2b"/><circle cx="-9.3" cy="58.9" r="0.8" fill="#bdd699"/><circle cx="-18.4" cy="61.2" r="0.8" fill="#517826"/><circle cx="8.5" cy="45.9" r="1.6" fill="#82ac49"/><circle cx="-3.2" cy="92.6" r="1.6" fill="#668838"/><circle cx="-17.6" cy="20" r="1" fill="#b8d890"/><circle cx="9.8" cy="69" r="1.3" fill="#7ba045"/><circle cx="17.7" cy="38.5" r="1.4" fill="#81ad46"/><circle cx="-11.7" cy="13.4" r="1.5" fill="#72a436"/><circle cx="4.7" cy="64.4" r="1.6" fill="#628932"/><circle cx="21" cy="49.5" r="1" fill="#83ac4a"/><circle cx="6.2" cy="12.9" r="1.5" fill="#66982c"/><circle cx="15.1" cy="81.2" r="0.9" fill="#55762b"/><circle cx="18.1" cy="47.8" r="0.9" fill="#77a23e"/><circle cx="-0.2" cy="19.3" r="1.1" fill="#72a436"/><circle cx="24.2" cy="77.3" r="1.1" fill="#70953d"/><circle cx="3.6" cy="54" r="1.4" fill="#84ab4c"/><circle cx="29.8" cy="78.4" r="1.1" fill="#658836"/><circle cx="31.1" cy="48.4" r="1" fill="#5f8a2d"/><circle cx="31.4" cy="41.2" r="0.8" fill="#41691b"/><circle cx="5.4" cy="25" r="1" fill="#66982c"/><circle cx="8.1" cy="62.4" r="1.4" fill="#79a042"/><circle cx="-23.5" cy="82.9" r="1.6" fill="#72943f"/><circle cx="27.7" cy="43.6" r="1.3" fill="#5e8b2c"/><path d="M0 38L-0.3 60L0.2 80L0 102" stroke="#3f5a1e" stroke-width="1.3" fill="none" opacity="0.5"/></g><filter id="tb" x="-5%" y="-5%" width="110%" height="110%" color-interpolation-filters="sRGB"><feTurbulence type="fractalNoise" baseFrequency="0.22" numOctaves="2" seed="3" result="n"/><feDisplacementMap in="SourceGraphic" in2="n" scale="5" xChannelSelector="R" yChannelSelector="G" result="d"/><feGaussianBlur in="d" stdDeviation="0.7"/></filter><filter id="tk" x="-5%" y="-5%" width="110%" height="110%"><feGaussianBlur stdDeviation="0.7"/></filter><clipPath id="c1"><rect x="55" y="100" width="200" height="203.9"/></clipPath><clipPath id="c2"><rect x="574" y="100" width="200" height="203.9"/></clipPath>
</defs>
<rect width="1024" height="368" fill="#fff"/>

<g clip-path="url(#c1)"><g filter="url(#tk)"><use href="#trunk" x="66.6" y="135.6"/><use href="#trunk" x="89.1" y="135.6"/><use href="#trunk" x="136.6" y="142.5"/><use href="#trunk" x="188.8" y="128.8"/></g><g filter="url(#tb)" opacity="0.95"><use href="#tree" x="66.6" y="135.6"/><use href="#tree" x="89.1" y="135.6"/><use href="#tree" x="136.6" y="142.5"/><use href="#tree" x="188.8" y="128.8"/></g></g><g clip-path="url(#c2)"><g filter="url(#tk)"><use href="#trunk" x="585.7" y="138"/><use href="#trunk" x="607.6" y="138"/><use href="#trunk" x="654.5" y="143.5"/><use href="#trunk" x="706" y="130.8"/></g><g filter="url(#tb)" opacity="0.95"><use href="#tree" x="585.7" y="138"/><use href="#tree" x="607.6" y="138"/><use href="#tree" x="654.5" y="143.5"/><use href="#tree" x="706" y="130.8"/></g></g>
<path d="M54.5 9.45H501.7V304.4" stroke="#868686" stroke-width="1" fill="none"/>
<path d="M54.5 9.45V304.4H501.7M54.5 304.4v5.5M129 304.4v5.5M203.5 304.4v5.5M278 304.4v5.5M352.5 304.4v5.5M427 304.4v5.5M501.5 304.4v5.5M54.5 304.4h-4M54.5 262.26h-4M54.5 220.13h-4M54.5 177.99h-4M54.5 135.86h-4M54.5 93.72h-4M54.5 51.58h-4M54.5 9.45h-4" stroke="#868686" stroke-width="1.1" fill="none"/>
<path d="M573.1 12.5H1014.7V304.4" stroke="#868686" stroke-width="1" fill="none"/>
<path d="M573.1 12.5V304.4H1014.7M573.6 304.4v5.5M647.15 304.4v5.5M720.7 304.4v5.5M794.25 304.4v5.5M867.8 304.4v5.5M941.35 304.4v5.5M1014.9 304.4v5.5M573.1 304.4h-4M573.1 246.02h-4M573.1 187.64h-4M573.1 129.26h-4M573.1 70.88h-4M573.1 12.5h-4" stroke="#868686" stroke-width="1.1" fill="none"/>
<path d="M61.95 295.5V298.5M58.95 295.5h6M61.95 298.5V301.5M58.95 301.5h6M76.85 256.75V277.5M73.85 256.75h6M91.75 295.5V298.5M88.75 295.5h6M91.75 298.5V301.5M88.75 301.5h6M106.65 280.25V292.25M103.65 280.25h6M106.65 292.25V304.25M103.65 304.25h6M121.55 271.5V286.4M118.55 271.5h6M121.55 286.4V301.3M118.55 301.3h6M136.45 295.5V298.5M133.45 295.5h6M136.45 298.5V301.5M133.45 301.5h6M151.35 295.5V298.5M148.35 295.5h6M151.35 298.5V301.5M148.35 301.5h6M166.25 290.5V296M163.25 290.5h6M166.25 296V301.5M163.25 301.5h6M181.15 291.5V295.5M178.15 291.5h6M181.15 295.5V299.5M178.15 299.5h6M196.05 286.75V295.5M193.05 286.75h6M196.05 295.5V304.25M193.05 304.25h6M210.95 259.25V277.5M207.95 259.25h6M210.95 277.5V295.75M207.95 295.75h6M225.85 202V229.5M222.85 202h6M225.85 229.5V257M222.85 257h6M240.75 188V220.5M237.75 188h6M240.75 220.5V253M237.75 253h6M255.65 216V244.25M252.65 216h6M255.65 244.25V272.5M252.65 272.5h6M270.55 217.5V247.5M267.55 217.5h6M270.55 247.5V277.5M267.55 277.5h6M285.45 165.2V202M282.45 165.2h6M285.45 202V238.8M282.45 238.8h6M300.35 175.75V211.25M297.35 175.75h6M300.35 211.25V246.75M297.35 246.75h6M315.25 183.45V195.75M312.25 183.45h6M315.25 195.75V208.05M312.25 208.05h6M330.15 162.25V202M327.15 162.25h6M330.15 202V241.75M327.15 241.75h6M345.05 232.5V247.5M342.05 232.5h6M345.05 247.5V262.5M342.05 262.5h6M359.95 171.25V199.5M356.95 171.25h6M359.95 199.5V227.75M356.95 227.75h6M374.85 188.25V205.5M371.85 188.25h6M374.85 205.5V222.75M371.85 222.75h6M389.75 242.3V256.9M386.75 242.3h6M389.75 256.9V271.5M386.75 271.5h6M404.65 219.25V235.25M401.65 219.25h6M404.65 235.25V251.25M401.65 251.25h6M419.55 199.9V229.6M416.55 199.9h6M419.55 229.6V259.3M416.55 259.3h6M434.45 215.25V235.25M431.45 215.25h6M434.45 235.25V255.25M431.45 255.25h6M449.35 218.6V238.4M446.35 218.6h6M449.35 238.4V258.2M446.35 258.2h6M464.25 181.1V202.1M461.25 181.1h6M464.25 202.1V223.1M461.25 223.1h6M479.15 222V244.4M476.15 222h6M479.15 244.4V266.8M476.15 266.8h6M494.05 263V271.9M491.05 263h6M494.05 271.9V280.8M491.05 280.8h6" stroke="#000" stroke-width="1.1" fill="none"/>
<path d="M61.95 266.75V280M58.95 266.75h6M61.95 280V293.25M58.95 293.25h6M76.85 291.5V295.5M73.85 291.5h6M76.85 295.5V299.5M73.85 299.5h6M91.75 268V286M88.75 268h6M91.75 286V304M88.75 304h6M106.65 246.8V265.4M103.65 246.8h6M106.65 265.4V284M103.65 284h6M121.55 222.7V253.2M118.55 222.7h6M121.55 253.2V283.7M118.55 283.7h6M136.45 229.2V259M133.45 229.2h6M136.45 259V288.8M133.45 288.8h6M151.35 205.75V247.25M148.35 205.75h6M151.35 247.25V288.75M148.35 288.75h6M166.25 274.8V283.5M163.25 274.8h6M166.25 283.5V292.2M163.25 292.2h6M181.15 217V253M178.15 217h6M181.15 253V289M178.15 289h6M196.05 264.25V277.5M193.05 264.25h6M196.05 277.5V290.75M193.05 290.75h6M210.95 226.75V250M207.95 226.75h6M210.95 250V273.25M207.95 273.25h6M225.85 125.6V180.6M222.85 125.6h6M225.85 180.6V235.6M222.85 235.6h6M240.75 134.2V189M237.75 134.2h6M240.75 189V243.8M237.75 243.8h6M255.65 139.1V180.6M252.65 139.1h6M255.65 180.6V222.1M252.65 222.1h6M270.55 61.3V138.6M267.55 61.3h6M270.55 138.6V215.9M267.55 215.9h6M285.45 56.25V117.5M282.45 56.25h6M285.45 117.5V178.75M282.45 178.75h6M300.35 37.35V96.25M297.35 37.35h6M300.35 96.25V155.15M297.35 155.15h6M315.25 128V162.5M312.25 128h6M315.25 162.5V197M312.25 197h6M330.15 126.75V165.75M327.15 126.75h6M330.15 165.75V204.75M327.15 204.75h6M345.05 108.5V145M342.05 108.5h6M345.05 145V181.5M342.05 181.5h6M359.95 188.75V208.75M356.95 188.75h6M359.95 208.75V228.75M356.95 228.75h6M374.85 196.25V214.5M371.85 196.25h6M374.85 214.5V232.75M371.85 232.75h6M389.75 249.75V258M386.75 249.75h6M389.75 258V266.25M386.75 266.25h6M404.65 243.8V259.4M401.65 243.8h6M404.65 259.4V275M401.65 275h6M419.55 209.1V224.6M416.55 209.1h6M419.55 224.6V240.1M416.55 240.1h6M434.45 198V217M431.45 198h6M434.45 217V236M431.45 236h6M449.35 229.5V243.5M446.35 229.5h6M449.35 243.5V257.5M446.35 257.5h6M464.25 226.8V247.1M461.25 226.8h6M464.25 247.1V267.4M461.25 267.4h6M479.15 243.1V262.5M476.15 243.1h6M479.15 262.5V281.9M476.15 281.9h6M494.05 229.1V241.1M491.05 229.1h6M494.05 241.1V253.1M491.05 253.1h6" stroke="#000" stroke-width="1.1" fill="none"/>
<polyline points="61.95,280 76.85,295.5 91.75,286 106.65,265.4 121.55,253.2 136.45,259 151.35,247.25 166.25,283.5 181.15,253 196.05,277.5 210.95,250 225.85,180.6 240.75,189 255.65,180.6 270.55,138.6 285.45,117.5 300.35,96.25 315.25,162.5 330.15,165.75 345.05,145 359.95,208.75 374.85,214.5 389.75,258 404.65,259.4 419.55,224.6 434.45,217 449.35,243.5 464.25,247.1 479.15,262.5 494.05,241.1" stroke="#000" stroke-width="2.0" fill="none" stroke-linejoin="round"/>
<use href="#dm" x="61.95" y="280"/><use href="#dm" x="76.85" y="295.5"/><use href="#dm" x="91.75" y="286"/><use href="#dm" x="106.65" y="265.4"/><use href="#dm" x="121.55" y="253.2"/><use href="#dm" x="136.45" y="259"/><use href="#dm" x="151.35" y="247.25"/><use href="#dm" x="166.25" y="283.5"/><use href="#dm" x="181.15" y="253"/><use href="#dm" x="196.05" y="277.5"/><use href="#dm" x="210.95" y="250"/><use href="#dm" x="225.85" y="180.6"/><use href="#dm" x="240.75" y="189"/><use href="#dm" x="255.65" y="180.6"/><use href="#dm" x="270.55" y="138.6"/><use href="#dm" x="285.45" y="117.5"/><use href="#dm" x="300.35" y="96.25"/><use href="#dm" x="315.25" y="162.5"/><use href="#dm" x="330.15" y="165.75"/><use href="#dm" x="345.05" y="145"/><use href="#dm" x="359.95" y="208.75"/><use href="#dm" x="374.85" y="214.5"/><use href="#dm" x="389.75" y="258"/><use href="#dm" x="404.65" y="259.4"/><use href="#dm" x="419.55" y="224.6"/><use href="#dm" x="434.45" y="217"/><use href="#dm" x="449.35" y="243.5"/><use href="#dm" x="464.25" y="247.1"/><use href="#dm" x="479.15" y="262.5"/><use href="#dm" x="494.05" y="241.1"/>
<polyline points="61.95,298.5 76.85,277.5 91.75,298.5 106.65,292.25 121.55,286.4 136.45,298.5 151.35,298.5 166.25,296 181.15,295.5 196.05,295.5 210.95,277.5 225.85,229.5 240.75,220.5 255.65,244.25 270.55,247.5 285.45,202 300.35,211.25 315.25,195.75 330.15,202 345.05,247.5 359.95,199.5 374.85,205.5 389.75,256.9 404.65,235.25 419.55,229.6 434.45,235.25 449.35,238.4 464.25,202.1 479.15,244.4 494.05,271.9" stroke="#000" stroke-width="2.0" fill="none" stroke-linejoin="round"/>
<use href="#sm1" x="61.95" y="298.5"/><use href="#sm1" x="76.85" y="277.5"/><use href="#sm1" x="91.75" y="298.5"/><use href="#sm1" x="106.65" y="292.25"/><use href="#sm1" x="121.55" y="286.4"/><use href="#sm1" x="136.45" y="298.5"/><use href="#sm1" x="151.35" y="298.5"/><use href="#sm1" x="166.25" y="296"/><use href="#sm1" x="181.15" y="295.5"/><use href="#sm1" x="196.05" y="295.5"/><use href="#sm1" x="210.95" y="277.5"/><use href="#sm1" x="225.85" y="229.5"/><use href="#sm1" x="240.75" y="220.5"/><use href="#sm1" x="255.65" y="244.25"/><use href="#sm1" x="270.55" y="247.5"/><use href="#sm1" x="285.45" y="202"/><use href="#sm1" x="300.35" y="211.25"/><use href="#sm1" x="315.25" y="195.75"/><use href="#sm1" x="330.15" y="202"/><use href="#sm1" x="345.05" y="247.5"/><use href="#sm1" x="359.95" y="199.5"/><use href="#sm1" x="374.85" y="205.5"/><use href="#sm1" x="389.75" y="256.9"/><use href="#sm1" x="404.65" y="235.25"/><use href="#sm1" x="419.55" y="229.6"/><use href="#sm1" x="434.45" y="235.25"/><use href="#sm1" x="449.35" y="238.4"/><use href="#sm1" x="464.25" y="202.1"/><use href="#sm1" x="479.15" y="244.4"/><use href="#sm1" x="494.05" y="271.9"/>
<path d="M580.96 290.25V293.25M577.96 290.25h6M580.96 293.25V296.25M577.96 296.25h6M595.67 293.75V296.75M592.67 293.75h6M595.67 296.75V299.75M592.67 299.75h6M610.38 294V297M607.38 294h6M610.38 297V300M607.38 300h6M625.09 290V296M622.09 290h6M625.09 296V302M622.09 302h6M639.8 288.25V291.25M636.8 288.25h6M639.8 291.25V294.25M636.8 294.25h6M654.5 293V296M651.5 293h6M654.5 296V299M651.5 299h6M669.22 293V296M666.22 293h6M669.22 296V299M666.22 299h6M683.93 287.75V290.75M680.93 287.75h6M683.93 290.75V293.75M680.93 293.75h6M698.63 269.6V281M695.63 269.6h6M698.63 281V292.4M695.63 292.4h6M713.35 267.75V271.75M710.35 267.75h6M713.35 271.75V275.75M710.35 275.75h6M728.06 280.75V284.75M725.06 280.75h6M728.06 284.75V288.75M725.06 288.75h6M742.77 259.9V272.5M739.77 259.9h6M742.77 272.5V285.1M739.77 285.1h6M757.48 261.85V276.6M754.48 261.85h6M757.48 276.6V291.35M754.48 291.35h6M772.19 283V288M769.19 283h6M772.19 288V293M769.19 293h6M786.9 292.9V295.9M783.9 292.9h6M786.9 295.9V298.9M783.9 298.9h6M801.61 261.2V272.4M798.61 261.2h6M801.61 272.4V283.6M798.61 283.6h6M816.32 243.7V258.2M813.32 243.7h6M816.32 258.2V272.7M813.32 272.7h6M831.03 232.7V249M828.03 232.7h6M831.03 249V265.3M828.03 265.3h6M845.74 243.9V259.5M842.74 243.9h6M845.74 259.5V275.1M842.74 275.1h6M860.45 238.75V256.25M857.45 238.75h6M860.45 256.25V273.75M857.45 273.75h6M875.16 239.25V244.25M872.16 239.25h6M875.16 244.25V249.25M872.16 249.25h6M889.87 168.9V221.5M886.87 168.9h6M889.87 221.5V274.1M886.87 274.1h6M904.58 283V288M901.58 283h6M904.58 288V293M901.58 293h6M919.29 217.15V238.75M916.29 217.15h6M919.29 238.75V260.35M916.29 260.35h6M934 103V174M931 103h6M934 174V245M931 245h6M948.71 38V122.5M945.71 38h6M948.71 122.5V207M945.71 207h6M963.42 239.5V252.5M960.42 239.5h6M963.42 252.5V265.5M960.42 265.5h6M978.12 176V200.5M975.12 176h6M978.12 200.5V225M975.12 225h6M992.84 154.5V210.5M989.84 154.5h6M992.84 210.5V266.5M989.84 266.5h6M1007.55 243.75V258.75M1004.55 243.75h6M1007.55 258.75V273.75M1004.55 273.75h6" stroke="#000" stroke-width="1.1" fill="none"/>
<path d="M580.96 279.25V283.25M577.96 279.25h6M580.96 283.25V287.25M577.96 287.25h6M595.67 295V297M592.67 295h6M595.67 297V299M592.67 299h6M610.38 296V298M607.38 296h6M610.38 298V300M607.38 300h6M625.09 291V294M622.09 291h6M625.09 294V297M622.09 297h6M639.8 296.75V298.75M636.8 296.75h6M639.8 298.75V300.75M636.8 300.75h6M654.5 295.5V297.5M651.5 295.5h6M654.5 297.5V299.5M651.5 299.5h6M669.22 285V288M666.22 285h6M669.22 288V291M666.22 291h6M683.93 290V293M680.93 290h6M683.93 293V296M680.93 296h6M698.63 278V282M695.63 278h6M698.63 282V286M695.63 286h6M713.35 286.5V290.5M710.35 286.5h6M713.35 290.5V294.5M710.35 294.5h6M728.06 212V245.9M725.06 212h6M728.06 245.9V279.8M725.06 279.8h6M742.77 273V278M739.77 273h6M742.77 278V283M739.77 283h6M757.48 295V298M754.48 295h6M757.48 298V301M754.48 301h6M772.19 288V292M769.19 288h6M772.19 292V296M769.19 296h6M786.9 280.2V284.2M783.9 280.2h6M786.9 284.2V288.2M783.9 288.2h6M801.61 285.9V289.9M798.61 285.9h6M801.61 289.9V293.9M798.61 293.9h6M816.32 272.1V279.6M813.32 272.1h6M816.32 279.6V287.1M813.32 287.1h6M831.03 225.4V252M828.03 225.4h6M831.03 252V278.6M828.03 278.6h6M845.74 243.2V263M842.74 243.2h6M845.74 263V282.8M842.74 282.8h6M860.45 249.5V261M857.45 249.5h6M860.45 261V272.5M857.45 272.5h6M875.16 186.2V225.7M872.16 186.2h6M875.16 225.7V265.2M872.16 265.2h6M889.87 244.75V258.75M886.87 244.75h6M889.87 258.75V272.75M886.87 272.75h6M904.58 160.3V212.5M901.58 160.3h6M904.58 212.5V264.7M901.58 264.7h6M919.29 105.5V155.5M916.29 105.5h6M919.29 155.5V205.5M916.29 205.5h6M934 157.7V186M931 157.7h6M934 186V214.3M931 214.3h6M948.71 156V192.5M945.71 156h6M948.71 192.5V229M945.71 229h6M963.42 143.1V190M960.42 143.1h6M963.42 190V236.9M960.42 236.9h6M978.12 134.25V167.5M975.12 134.25h6M978.12 167.5V200.75M975.12 200.75h6M992.84 212.25V231.75M989.84 212.25h6M992.84 231.75V251.25M989.84 251.25h6M1007.55 33.2V125M1004.55 33.2h6M1007.55 125V216.8M1004.55 216.8h6" stroke="#000" stroke-width="1.1" fill="none"/>
<polyline points="580.96,283.25 595.67,297 610.38,298 625.09,294 639.8,298.75 654.5,297.5 669.22,288 683.93,293 698.63,282 713.35,290.5 728.06,245.9 742.77,278 757.48,298 772.19,292 786.9,284.2 801.61,289.9 816.32,279.6 831.03,252 845.74,263 860.45,261 875.16,225.7 889.87,258.75 904.58,212.5 919.29,155.5 934,186 948.71,192.5 963.42,190 978.12,167.5 992.84,231.75 1007.55,125" stroke="#000" stroke-width="2.0" fill="none" stroke-linejoin="round"/>
<use href="#dm" x="580.96" y="283.25"/><use href="#dm" x="595.67" y="297"/><use href="#dm" x="610.38" y="298"/><use href="#dm" x="625.09" y="294"/><use href="#dm" x="639.8" y="298.75"/><use href="#dm" x="654.5" y="297.5"/><use href="#dm" x="669.22" y="288"/><use href="#dm" x="683.93" y="293"/><use href="#dm" x="698.63" y="282"/><use href="#dm" x="713.35" y="290.5"/><use href="#dm" x="728.06" y="245.9"/><use href="#dm" x="742.77" y="278"/><use href="#dm" x="757.48" y="298"/><use href="#dm" x="772.19" y="292"/><use href="#dm" x="786.9" y="284.2"/><use href="#dm" x="801.61" y="289.9"/><use href="#dm" x="816.32" y="279.6"/><use href="#dm" x="831.03" y="252"/><use href="#dm" x="845.74" y="263"/><use href="#dm" x="860.45" y="261"/><use href="#dm" x="875.16" y="225.7"/><use href="#dm" x="889.87" y="258.75"/><use href="#dm" x="904.58" y="212.5"/><use href="#dm" x="919.29" y="155.5"/><use href="#dm" x="934" y="186"/><use href="#dm" x="948.71" y="192.5"/><use href="#dm" x="963.42" y="190"/><use href="#dm" x="978.12" y="167.5"/><use href="#dm" x="992.84" y="231.75"/><use href="#dm" x="1007.55" y="125"/>
<polyline points="580.96,293.25 595.67,296.75 610.38,297 625.09,296 639.8,291.25 654.5,296 669.22,296 683.93,290.75 698.63,281 713.35,271.75 728.06,284.75 742.77,272.5 757.48,276.6 772.19,288 786.9,295.9 801.61,272.4 816.32,258.2 831.03,249 845.74,259.5 860.45,256.25 875.16,244.25 889.87,221.5 904.58,288 919.29,238.75 934,174 948.71,122.5 963.42,252.5 978.12,200.5 992.84,210.5 1007.55,258.75" stroke="#000" stroke-width="2.0" fill="none" stroke-linejoin="round"/>
<use href="#sm2" x="580.96" y="293.25"/><use href="#sm2" x="595.67" y="296.75"/><use href="#sm2" x="610.38" y="297"/><use href="#sm2" x="625.09" y="296"/><use href="#sm2" x="639.8" y="291.25"/><use href="#sm2" x="654.5" y="296"/><use href="#sm2" x="669.22" y="296"/><use href="#sm2" x="683.93" y="290.75"/><use href="#sm2" x="698.63" y="281"/><use href="#sm2" x="713.35" y="271.75"/><use href="#sm2" x="728.06" y="284.75"/><use href="#sm2" x="742.77" y="272.5"/><use href="#sm2" x="757.48" y="276.6"/><use href="#sm2" x="772.19" y="288"/><use href="#sm2" x="786.9" y="295.9"/><use href="#sm2" x="801.61" y="272.4"/><use href="#sm2" x="816.32" y="258.2"/><use href="#sm2" x="831.03" y="249"/><use href="#sm2" x="845.74" y="259.5"/><use href="#sm2" x="860.45" y="256.25"/><use href="#sm2" x="875.16" y="244.25"/><use href="#sm2" x="889.87" y="221.5"/><use href="#sm2" x="904.58" y="288"/><use href="#sm2" x="919.29" y="238.75"/><use href="#sm2" x="934" y="174"/><use href="#sm2" x="948.71" y="122.5"/><use href="#sm2" x="963.42" y="252.5"/><use href="#sm2" x="978.12" y="200.5"/><use href="#sm2" x="992.84" y="210.5"/><use href="#sm2" x="1007.55" y="258.75"/>
<text x="43.4" y="308.1" font-size="10.6" text-anchor="end" font-weight="normal" >0</text>
<text x="43.4" y="265.96" font-size="10.6" text-anchor="end" font-weight="normal" >2</text>
<text x="43.4" y="223.83" font-size="10.6" text-anchor="end" font-weight="normal" >4</text>
<text x="43.4" y="181.69" font-size="10.6" text-anchor="end" font-weight="normal" >6</text>
<text x="43.4" y="139.56" font-size="10.6" text-anchor="end" font-weight="normal" >8</text>
<text x="43.4" y="97.42" font-size="10.6" text-anchor="end" font-weight="normal" >10</text>
<text x="43.4" y="55.28" font-size="10.6" text-anchor="end" font-weight="normal" >12</text>
<text x="43.4" y="13.15" font-size="10.6" text-anchor="end" font-weight="normal" >14</text>
<text x="55.2" y="331.6" font-size="12" text-anchor="middle" font-weight="normal" >-10</text>
<text x="126.6" y="330.8" font-size="12" text-anchor="middle" font-weight="normal" >-5</text>
<text x="204.3" y="330.8" font-size="12" text-anchor="middle" font-weight="normal" >0</text>
<text x="278.2" y="330.1" font-size="12" text-anchor="middle" font-weight="normal" >5</text>
<text x="352.8" y="331.1" font-size="12" text-anchor="middle" font-weight="normal" >10</text>
<text x="426.8" y="331.1" font-size="12" text-anchor="middle" font-weight="normal" >15</text>
<text x="503.7" y="330.4" font-size="12" text-anchor="middle" font-weight="normal" >20</text>
<text x="561.8" y="308.1" font-size="10.6" text-anchor="end" font-weight="normal" >0</text>
<text x="561.8" y="249.72" font-size="10.6" text-anchor="end" font-weight="normal" >50</text>
<text x="561.8" y="191.34" font-size="10.6" text-anchor="end" font-weight="normal" >100</text>
<text x="561.8" y="132.96" font-size="10.6" text-anchor="end" font-weight="normal" >150</text>
<text x="561.8" y="74.58" font-size="10.6" text-anchor="end" font-weight="normal" >200</text>
<text x="561.8" y="16.2" font-size="10.6" text-anchor="end" font-weight="normal" >250</text>
<text x="571.3" y="333.6" font-size="12" text-anchor="middle" font-weight="normal" >-10</text>
<text x="642.9" y="333.6" font-size="12" text-anchor="middle" font-weight="normal" >-5</text>
<text x="720.5" y="333.4" font-size="12" text-anchor="middle" font-weight="normal" >0</text>
<text x="794.7" y="332.4" font-size="12" text-anchor="middle" font-weight="normal" >5</text>
<text x="869.1" y="333.1" font-size="12" text-anchor="middle" font-weight="normal" >10</text>
<text x="943.1" y="333.1" font-size="12" text-anchor="middle" font-weight="normal" >15</text>
<text x="1015" y="332.1" font-size="12" text-anchor="middle" font-weight="normal" >20</text>
<text id="xt1" x="272.8" y="360.8" font-size="14.8" font-weight="bold" text-anchor="middle" textLength="166" lengthAdjust="spacingAndGlyphs">Distance from edge (m)</text>
<text id="xt2" x="794.1" y="356.5" font-size="14.8" font-weight="bold" text-anchor="middle" textLength="166" lengthAdjust="spacingAndGlyphs">Distance from edge (m)</text>
<text id="yt1" transform="translate(22.8 156.8) rotate(-90)" font-size="15" font-weight="bold" text-anchor="middle" textLength="232.4" lengthAdjust="spacingAndGlyphs">Mean number of seedlings (± se)</text>
<text id="yt2" transform="translate(535.2 158.6) rotate(-90)" font-size="15" font-weight="bold" text-anchor="middle" textLength="221" lengthAdjust="spacingAndGlyphs">Mean seedling height (cm ± se)</text>
<path d="M84.4 35.6H108.9M84.4 56.7H108.9" stroke="#000" stroke-width="1.5" fill="none"/>
<use href="#dl" x="97.1" y="35.6"/><use href="#sl" x="97.1" y="56.7"/>
<text x="112" y="39" font-size="10.5" textLength="62" lengthAdjust="spacingAndGlyphs">North-facing</text>
<text x="112" y="60.5" font-size="10.5" textLength="62" lengthAdjust="spacingAndGlyphs">South-facing</text>
<path d="M597.1 37H621.5M597.1 58H621.5" stroke="#000" stroke-width="1.5" fill="none"/>
<use href="#dl" x="609.4" y="37"/><use href="#sl" x="609.4" y="58"/>
<text x="624.6" y="40.6" font-size="10.5" textLength="62" lengthAdjust="spacingAndGlyphs">North-facing</text>
<text x="624.6" y="61.7" font-size="10.5" textLength="62" lengthAdjust="spacingAndGlyphs">South-facing</text>
</svg>
</body></html>
